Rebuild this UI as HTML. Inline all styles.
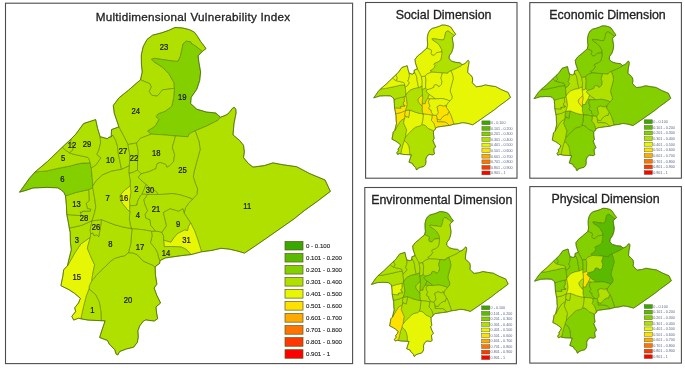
<!DOCTYPE html><html><head><meta charset="utf-8"><title>Vulnerability Index Maps</title><style>html,body{margin:0;padding:0;background:#fff}svg{display:block}</style></head><body><svg width="685" height="370" viewBox="0 0 685 370" font-family="Liberation Sans, Arial, sans-serif"><rect width="685" height="370" fill="#fff"/><g fill="none" stroke="#4d4d4d" stroke-width="1.1"><rect x="5.50" y="3.20" width="347.10" height="360.40"/><rect x="365.60" y="2.50" width="151.40" height="175.70"/><rect x="529.80" y="2.60" width="151.60" height="175.60"/><rect x="364.80" y="187.50" width="151.60" height="176.20"/><rect x="529.80" y="186.60" width="151.60" height="176.50"/></g><g fill="#222" stroke="#222" stroke-width="0.3" font-size="12.4" text-anchor="middle"><text x="95.7" y="20.5" font-size="11.7" letter-spacing="0.26" text-anchor="start">Multidimensional Vulnerability Index</text><text x="443.6" y="19">Social Dimension</text><text x="607.5" y="19.3">Economic Dimension</text><text x="441.8" y="204">Environmental Dimension</text><text x="605.5" y="202.8">Physical Dimension</text></g><g stroke="#4a6c00" stroke-width="0.45" stroke-linejoin="round"><polygon points="141.3,55.0 143.2,46.5 147.0,39.5 152.5,35.2 161.6,32.8 168.9,30.3 175.0,27.5 182.3,27.9 189.6,29.7 194.4,32.2 197.5,36.4 200.5,41.3 204.2,46.1 206.0,48.6 202.3,51.5 197.0,47.2 193.3,44.5 191.6,43.9 190.6,41.8 186.2,41.2 183.0,43.9 181.9,49.9 180.3,56.4 178.1,61.3 173.8,61.2 154.3,58.3 151.6,59.4 154.3,62.0 162.4,67.2 168.9,73.7 172.5,80.2 174.0,82.6 174.4,88.3 168.1,89.2 162.6,89.8 160.2,92.8 157.1,96.2 151.7,95.3 149.2,91.6 151.1,86.7 149.8,83.7 140.5,79.8 142.2,72.0 141.4,63.9" fill="#b0e000"/><polygon points="202.3,51.5 198.1,55.8 198.9,62.3 200.6,72.0 199.7,80.5 196.8,89.2 191.2,97.3 190.6,103.5 196.8,109.2 206.3,112.0 215.8,113.0 220.5,117.2 217.7,120.5 206.3,126.2 195.2,130.8 189.2,133.8 188.0,136.8 186.4,136.7 175.5,136.0 162.6,134.8 151.2,134.2 147.4,131.0 155.0,126.2 158.8,119.6 156.0,116.8 157.9,113.9 165.5,111.0 171.7,106.3 173.6,97.8 174.4,88.3 174.0,82.6 172.5,80.2 168.9,73.7 162.4,67.2 154.3,62.0 151.6,59.4 154.3,58.3 173.8,61.2 178.1,61.3 180.3,56.4 181.9,49.9 183.0,43.9 186.2,41.2 190.6,41.8 191.6,43.9 193.3,44.5 197.0,47.2" fill="#83cf00"/><polygon points="118.8,126.9 118.0,124.3 114.2,113.0 113.3,105.4 119.0,97.8 128.5,90.2 136.1,83.5 140.5,79.8 149.8,83.7 151.1,86.7 149.2,91.6 151.7,95.3 157.1,96.2 160.2,92.8 162.6,89.8 168.1,89.2 174.4,88.3 173.6,97.8 171.7,106.3 165.5,111.0 157.9,113.9 156.0,116.8 158.8,119.6 155.0,126.2 147.4,131.0 151.2,134.2 140.4,138.3 136.6,143.0 128.0,144.5 123.2,135.2" fill="#b0e000"/><polygon points="220.5,117.2 225.0,115.5 227.9,114.0 230.8,110.5 232.6,108.2 234.3,107.3 235.8,109.3 236.1,112.9 235.2,117.5 234.0,123.5 233.0,134.9 239.7,140.5 243.5,145.3 244.4,151.9 243.5,157.6 248.2,163.3 253.0,167.1 264.3,165.6 272.9,162.9 283.3,164.8 296.6,166.7 309.9,173.7 325.1,180.0 330.4,191.4 317.5,201.2 304.2,210.7 293.9,219.0 274.9,232.3 255.9,245.5 244.5,253.1 236.9,250.9 229.0,249.1 221.0,248.3 212.0,250.4 201.5,251.8 198.1,240.7 194.5,230.5 190.5,222.8 186.5,216.7 184.1,213.1 185.6,207.5 188.4,203.4 192.5,199.2 196.8,194.5 197.6,189.0 195.5,183.8 193.3,177.0 194.0,172.0 196.4,163.0 200.1,149.7 199.2,142.1 195.2,130.8 206.3,126.2 217.7,120.5" fill="#b0e000"/><polygon points="201.5,251.8 191.0,254.6 187.3,250.4 184.8,248.6 181.2,247.0 171.5,246.5 164.2,246.7 163.6,240.1 170.9,242.1 173.9,237.6 177.6,233.4 184.8,229.7 187.5,230.5 188.4,226.5 190.5,222.8 194.5,230.5 198.1,240.7" fill="#e6f604"/><polygon points="191.0,254.6 181.2,255.7 170.6,257.2 165.1,258.0 160.8,260.2 159.9,261.3 158.4,257.0 157.6,253.2 155.2,248.4 150.4,242.8 152.0,236.2 151.5,231.3 155.5,231.0 159.2,231.6 162.0,232.3 163.6,236.0 163.6,240.1 164.2,246.7 171.5,246.5 181.2,247.0 184.8,248.6 187.3,250.4" fill="#b0e000"/><polygon points="155.2,267.2 155.4,274.7 156.9,284.2 154.1,288.0 156.9,295.5 160.6,303.0 156.0,306.9 156.6,313.0 157.7,318.7 154.3,321.0 150.0,320.5 145.8,319.9 143.4,321.1 139.7,325.9 137.9,330.8 138.3,336.9 137.3,342.4 133.6,347.2 126.3,349.0 119.7,351.5 117.8,355.0 116.0,353.9 114.8,349.7 109.3,344.2 107.5,340.5 99.6,337.5 102.3,329.0 105.1,320.9 101.2,320.7 100.9,311.6 99.3,302.1 95.5,294.5 88.9,289.0 89.3,285.7 91.8,280.5 93.0,279.5 96.3,275.3 106.1,265.5 110.3,261.5 114.6,258.4 119.8,256.8 124.9,255.6 128.4,252.7 132.5,252.8 137.2,254.6 143.2,261.1 153.0,265.3" fill="#b0e000"/><polygon points="101.2,320.7 88.0,320.1 80.8,318.8 83.2,307.8 86.1,296.4 88.9,289.0 95.5,294.5 99.3,302.1 100.9,311.6" fill="#b0e000"/><polygon points="80.8,318.8 78.5,318.2 73.7,320.1 71.8,316.3 75.6,311.6 74.7,307.8 78.5,303.0 80.4,298.3 74.7,293.5 69.0,289.7 60.9,285.7 62.8,276.2 63.7,269.6 67.5,265.8 75.1,252.5 80.8,244.0 90.3,237.3 87.3,248.2 91.5,258.2 94.6,264.9 93.3,271.0 92.3,276.5 91.8,280.5 89.3,285.7 88.9,289.0 86.1,296.4 83.2,307.8" fill="#e6f604"/><polygon points="67.5,265.8 68.5,261.1 71.3,249.7 70.4,242.1 70.2,232.6 69.3,228.1 81.6,225.3 92.0,220.8 90.2,230.0 90.7,233.8 90.3,237.3 80.8,244.0 75.1,252.5" fill="#b0e000"/><polygon points="69.3,228.1 68.3,222.4 66.8,214.5 81.3,215.6 80.1,211.7 81.9,212.6 82.5,211.1 90.3,211.1 90.8,209.3 87.4,208.7 86.1,203.2 89.2,200.8 88.6,189.6 92.8,187.7 94.9,199.7 95.8,207.3 94.0,214.9 92.0,220.8 81.6,225.3" fill="#b0e000"/><polygon points="66.8,214.5 66.4,205.4 65.5,195.9 75.9,192.5 88.6,189.6 89.2,200.8 86.1,203.2 87.4,208.7 90.8,209.3 90.3,211.1 82.5,211.1 81.9,212.6 80.1,211.7 81.3,215.6" fill="#b0e000"/><polygon points="65.5,195.9 64.1,192.8 61.1,189.8 57.4,187.8 46.5,187.4 33.1,188.0 25.8,190.4 19.5,192.2 23.4,186.7 29.5,178.2 35.1,171.9 46.5,170.9 58.6,168.2 70.0,166.0 76.0,164.3 81.9,163.1 90.2,162.8 91.3,168.2 91.9,174.3 92.6,181.6 92.7,186.0 92.8,187.7 88.6,189.6 75.9,192.5" fill="#83cf00"/><polygon points="35.1,171.9 47.4,161.5 62.3,147.2 65.5,150.2 69.5,152.8 72.2,153.8 76.0,154.8 81.9,156.0 87.9,157.4 89.0,158.9 90.2,162.8 81.9,163.1 76.0,164.3 70.0,166.0 58.6,168.2 46.5,170.9" fill="#b0e000"/><polygon points="62.3,147.2 71.4,138.7 70.6,142.5 73.5,147.0 72.5,150.5 69.5,152.8 65.5,150.2" fill="#b0e000"/><polygon points="71.4,138.7 75.9,134.0 83.6,123.5 95.7,119.6 97.6,128.4 100.2,136.9 100.6,143.0 98.8,150.3 96.9,154.5 100.9,157.8 96.5,164.6 91.3,168.2 90.2,162.8 89.0,158.9 87.9,157.4 81.9,156.0 76.0,154.8 72.2,153.8 69.5,152.8 72.5,150.5 73.5,147.0 70.6,142.5" fill="#b0e000"/><polygon points="100.2,136.9 101.8,137.1 107.3,138.7 109.1,137.1 111.2,136.9 112.8,135.0 115.8,140.5 117.6,146.6 118.3,154.0 119.6,159.7 121.5,169.4 111.1,171.3 102.6,174.9 96.5,180.4 92.7,186.0 92.6,181.6 91.9,174.3 91.3,168.2 96.5,164.6 100.9,157.8 96.9,154.5 98.8,150.3 100.6,143.0" fill="#b0e000"/><polygon points="111.2,136.9 111.5,129.6 118.8,126.9 123.2,135.2 128.0,144.5 129.9,155.4 129.6,162.0 129.3,165.8 121.5,169.4 119.6,159.7 118.3,154.0 117.6,146.6 115.8,140.5 112.8,135.0" fill="#b0e000"/><polygon points="128.0,144.5 136.6,143.0 138.3,151.6 137.6,162.2 137.5,170.1 133.2,172.3 129.0,173.4 128.7,171.9 129.3,165.8 129.6,162.0 129.9,155.4" fill="#b0e000"/><polygon points="136.6,143.0 140.4,138.3 151.2,134.2 162.6,134.8 175.5,136.0 174.2,141.0 172.3,147.3 174.7,154.6 173.5,161.9 169.8,165.5 166.8,167.4 165.6,164.3 160.1,162.5 157.1,163.7 155.9,168.6 149.2,171.6 141.1,173.8 137.5,170.1 137.6,162.2 138.3,151.6" fill="#b0e000"/><polygon points="175.5,136.0 186.4,136.7 188.0,136.8 189.2,133.8 195.2,130.8 199.2,142.1 200.1,149.7 196.4,163.0 194.0,172.0 193.3,177.0 195.5,183.8 197.6,189.0 196.8,194.5 192.5,199.2 187.5,197.2 180.0,194.8 172.0,193.5 166.1,194.2 158.2,194.5 155.7,191.1 150.3,188.1 146.0,184.5 143.0,182.0 138.1,177.2 141.1,173.8 149.2,171.6 155.9,168.6 157.1,163.7 160.1,162.5 165.6,164.3 166.8,167.4 169.8,165.5 173.5,161.9 174.7,154.6 172.3,147.3 174.2,141.0" fill="#b0e000"/><polygon points="129.0,173.4 133.2,172.3 137.5,170.1 141.1,173.8 138.1,177.2 143.0,182.0 146.0,184.5 144.2,189.3 142.0,194.2 139.3,197.8 137.5,201.5 136.9,205.1 133.2,205.7 129.7,205.8 129.5,200.0 130.8,192.3 130.2,185.9 130.2,180.8" fill="#b0e000"/><polygon points="146.0,184.5 150.3,188.1 155.7,191.1 158.2,194.5 147.8,194.4 142.0,194.2 144.2,189.3" fill="#b0e000"/><polygon points="130.2,185.9 125.7,189.3 122.0,192.9 120.2,195.3 120.1,198.4 120.8,200.8 123.2,204.5 125.7,207.5 128.1,210.5 129.9,211.7 129.7,205.8 129.5,200.0 130.8,192.3" fill="#e6f604"/><polygon points="129.7,205.8 133.2,205.7 136.9,205.1 137.5,201.5 139.3,197.8 142.0,194.2 147.8,194.4 144.0,199.7 144.6,203.4 147.6,210.7 145.2,214.3 145.8,218.0 150.1,219.8 150.7,225.3 153.5,228.5 155.5,231.0 151.5,231.3 143.7,229.8 131.5,228.6 130.4,225.1 129.3,219.0 129.9,211.7" fill="#b0e000"/><polygon points="147.8,194.4 158.2,194.5 166.1,194.2 172.0,193.5 180.0,194.8 187.5,197.2 192.5,199.2 188.4,203.4 185.6,207.5 184.1,213.1 182.9,208.8 178.6,211.3 170.1,208.8 163.4,212.5 165.3,220.4 166.5,225.9 162.0,232.3 159.2,231.6 155.5,231.0 153.5,228.5 150.7,225.3 150.1,219.8 145.8,218.0 145.2,214.3 147.6,210.7 144.6,203.4 144.0,199.7" fill="#b0e000"/><polygon points="162.0,232.3 166.5,225.9 165.3,220.4 163.4,212.5 170.1,208.8 178.6,211.3 182.9,208.8 184.1,213.1 186.5,216.7 190.5,222.8 188.4,226.5 187.5,230.5 184.8,229.7 177.6,233.4 173.9,237.6 170.9,242.1 163.6,240.1 163.6,236.0" fill="#b0e000"/><polygon points="131.5,228.6 143.7,229.8 151.5,231.3 152.0,236.2 150.4,242.8 155.2,248.4 157.6,253.2 158.4,257.0 159.9,261.3 159.6,263.5 156.0,265.9 155.2,267.2 153.0,265.3 143.2,261.1 137.2,254.6 132.5,252.8 128.4,252.7 130.7,244.0 132.0,228.8" fill="#b0e000"/><polygon points="101.5,219.6 114.3,224.6 123.0,227.0 131.5,228.6 132.0,228.8 130.7,244.0 128.4,252.7 124.9,255.6 119.8,256.8 114.6,258.4 110.3,261.5 106.1,265.5 96.3,275.3 93.0,279.5 91.8,280.5 92.3,276.5 93.3,271.0 94.6,264.9 91.5,258.2 87.3,248.2 90.3,237.3 90.7,233.8 93.0,232.9 94.0,235.7 96.8,234.8 98.7,236.7 100.6,226.2" fill="#b0e000"/><polygon points="92.0,220.8 101.5,219.6 100.6,226.2 98.7,236.7 96.8,234.8 94.0,235.7 93.0,232.9 90.7,233.8 90.2,230.0" fill="#b0e000"/><polygon points="92.7,186.0 96.5,180.4 102.6,174.9 111.1,171.3 121.5,169.4 129.3,165.8 128.7,171.9 129.0,173.4 130.2,180.8 130.2,185.9 125.7,189.3 122.0,192.9 120.2,195.3 120.1,198.4 120.8,200.8 123.2,204.5 125.7,207.5 128.1,210.5 129.9,211.7 129.3,219.0 130.4,225.1 131.5,228.6 123.0,227.0 114.3,224.6 101.5,219.6 92.0,220.8 94.0,214.9 95.8,207.3 94.9,199.7 92.8,187.7" fill="#b0e000"/><polygon points="141.3,55.0 143.2,46.5 147.0,39.5 152.5,35.2 161.6,32.8 168.9,30.3 175.0,27.5 182.3,27.9 189.6,29.7 194.4,32.2 197.5,36.4 200.5,41.3 204.2,46.1 206.0,48.6 202.3,51.5 198.1,55.8 198.9,62.3 200.6,72.0 199.7,80.5 196.8,89.2 191.2,97.3 190.6,103.5 196.8,109.2 206.3,112.0 215.8,113.0 220.5,117.2 225.0,115.5 227.9,114.0 230.8,110.5 232.6,108.2 234.3,107.3 235.8,109.3 236.1,112.9 235.2,117.5 234.0,123.5 233.0,134.9 239.7,140.5 243.5,145.3 244.4,151.9 243.5,157.6 248.2,163.3 253.0,167.1 264.3,165.6 272.9,162.9 283.3,164.8 296.6,166.7 309.9,173.7 325.1,180.0 330.4,191.4 317.5,201.2 304.2,210.7 293.9,219.0 274.9,232.3 255.9,245.5 244.5,253.1 236.9,250.9 229.0,249.1 221.0,248.3 212.0,250.4 201.5,251.8 191.0,254.6 181.2,255.7 170.6,257.2 165.1,258.0 160.8,260.2 159.9,261.3 159.6,263.5 156.0,265.9 155.2,267.2 155.4,274.7 156.9,284.2 154.1,288.0 156.9,295.5 160.6,303.0 156.0,306.9 156.6,313.0 157.7,318.7 154.3,321.0 150.0,320.5 145.8,319.9 143.4,321.1 139.7,325.9 137.9,330.8 138.3,336.9 137.3,342.4 133.6,347.2 126.3,349.0 119.7,351.5 117.8,355.0 116.0,353.9 114.8,349.7 109.3,344.2 107.5,340.5 99.6,337.5 102.3,329.0 105.1,320.9 101.2,320.7 88.0,320.1 80.8,318.8 78.5,318.2 73.7,320.1 71.8,316.3 75.6,311.6 74.7,307.8 78.5,303.0 80.4,298.3 74.7,293.5 69.0,289.7 60.9,285.7 62.8,276.2 63.7,269.6 67.5,265.8 68.5,261.1 71.3,249.7 70.4,242.1 70.2,232.6 69.3,228.1 68.3,222.4 66.8,214.5 66.4,205.4 65.5,195.9 64.1,192.8 61.1,189.8 57.4,187.8 46.5,187.4 33.1,188.0 25.8,190.4 19.5,192.2 23.4,186.7 29.5,178.2 35.1,171.9 47.4,161.5 62.3,147.2 71.4,138.7 75.9,134.0 83.6,123.5 95.7,119.6 97.6,128.4 100.2,136.9 101.8,137.1 107.3,138.7 109.1,137.1 111.2,136.9 111.5,129.6 118.8,126.9 118.0,124.3 114.2,113.0 113.3,105.4 119.0,97.8 128.5,90.2 136.1,83.5 140.5,79.8 142.2,72.0 141.4,63.9" fill="none" stroke-width="0.75"/></g><g font-size="9" fill="#1a1a1a" stroke="#1a1a1a" stroke-width="0.25" text-anchor="middle"><text transform="translate(164.1 49.85) scale(0.85 1)">23</text><text transform="translate(182.3 99.95) scale(0.85 1)">19</text><text transform="translate(135.7 113.80) scale(0.85 1)">24</text><text transform="translate(72.0 148.05) scale(0.85 1)">12</text><text transform="translate(87.1 146.55) scale(0.85 1)">29</text><text transform="translate(63.0 161.05) scale(0.85 1)">5</text><text transform="translate(62.3 182.45) scale(0.85 1)">6</text><text transform="translate(110.3 162.65) scale(0.85 1)">10</text><text transform="translate(123.1 153.95) scale(0.85 1)">27</text><text transform="translate(134.0 161.25) scale(0.85 1)">22</text><text transform="translate(156.2 155.85) scale(0.85 1)">18</text><text transform="translate(182.6 172.85) scale(0.85 1)">25</text><text transform="translate(247.3 209.45) scale(0.85 1)">11</text><text transform="translate(107.6 200.75) scale(0.85 1)">7</text><text transform="translate(124.1 201.35) scale(0.85 1)">16</text><text transform="translate(136.4 192.15) scale(0.85 1)">2</text><text transform="translate(150.1 192.65) scale(0.85 1)">30</text><text transform="translate(137.9 218.35) scale(0.85 1)">4</text><text transform="translate(155.9 211.95) scale(0.85 1)">21</text><text transform="translate(178.0 226.65) scale(0.85 1)">9</text><text transform="translate(186.4 243.25) scale(0.85 1)">31</text><text transform="translate(165.9 255.85) scale(0.85 1)">14</text><text transform="translate(139.9 249.75) scale(0.85 1)">17</text><text transform="translate(110.3 246.55) scale(0.85 1)">8</text><text transform="translate(95.9 229.85) scale(0.85 1)">26</text><text transform="translate(84.0 221.25) scale(0.85 1)">28</text><text transform="translate(76.5 207.15) scale(0.85 1)">13</text><text transform="translate(76.9 242.65) scale(0.85 1)">3</text><text transform="translate(76.7 279.95) scale(0.85 1)">15</text><text transform="translate(128.0 302.55) scale(0.85 1)">20</text><text transform="translate(92.4 312.65) scale(0.85 1)">1</text></g><rect x="285" y="241.40" width="18" height="8.6" fill="#38a800" stroke="#5c5c1e" stroke-width="0.7"/><text x="306" y="247.90" font-size="6.1" fill="#222" stroke="#222" stroke-width="0.12">0 - 0.100</text><rect x="285" y="253.43" width="18" height="8.6" fill="#5aba00" stroke="#5c5c1e" stroke-width="0.7"/><text x="306" y="259.93" font-size="6.1" fill="#222" stroke="#222" stroke-width="0.12">0.101 - 0.200</text><rect x="285" y="265.46" width="18" height="8.6" fill="#83cf00" stroke="#5c5c1e" stroke-width="0.7"/><text x="306" y="271.96" font-size="6.1" fill="#222" stroke="#222" stroke-width="0.12">0.201 - 0.300</text><rect x="285" y="277.49" width="18" height="8.6" fill="#b0e000" stroke="#5c5c1e" stroke-width="0.7"/><text x="306" y="283.99" font-size="6.1" fill="#222" stroke="#222" stroke-width="0.12">0.301 - 0.400</text><rect x="285" y="289.52" width="18" height="8.6" fill="#e6f604" stroke="#5c5c1e" stroke-width="0.7"/><text x="306" y="296.02" font-size="6.1" fill="#222" stroke="#222" stroke-width="0.12">0.401 - 0.500</text><rect x="285" y="301.55" width="18" height="8.6" fill="#ffe100" stroke="#5c5c1e" stroke-width="0.7"/><text x="306" y="308.05" font-size="6.1" fill="#222" stroke="#222" stroke-width="0.12">0.501 - 0.600</text><rect x="285" y="313.58" width="18" height="8.6" fill="#ffaa00" stroke="#5c5c1e" stroke-width="0.7"/><text x="306" y="320.08" font-size="6.1" fill="#222" stroke="#222" stroke-width="0.12">0.601 - 0.700</text><rect x="285" y="325.61" width="18" height="8.6" fill="#ff7300" stroke="#5c5c1e" stroke-width="0.7"/><text x="306" y="332.11" font-size="6.1" fill="#222" stroke="#222" stroke-width="0.12">0.701 - 0.800</text><rect x="285" y="337.64" width="18" height="8.6" fill="#ff3700" stroke="#5c5c1e" stroke-width="0.7"/><text x="306" y="344.14" font-size="6.1" fill="#222" stroke="#222" stroke-width="0.12">0.801 - 0.900</text><rect x="285" y="349.67" width="18" height="8.6" fill="#ff0000" stroke="#5c5c1e" stroke-width="0.7"/><text x="306" y="356.17" font-size="6.1" fill="#222" stroke="#222" stroke-width="0.12">0.901 - 1</text><g transform="translate(365.14 12.80) scale(0.4400 0.4426)"><g stroke="#4a6c00" stroke-width="1.0" stroke-linejoin="round"><polygon points="141.3,55.0 143.2,46.5 147.0,39.5 152.5,35.2 161.6,32.8 168.9,30.3 175.0,27.5 182.3,27.9 189.6,29.7 194.4,32.2 197.5,36.4 200.5,41.3 204.2,46.1 206.0,48.6 202.3,51.5 197.0,47.2 193.3,44.5 191.6,43.9 190.6,41.8 186.2,41.2 183.0,43.9 181.9,49.9 180.3,56.4 178.1,61.3 173.8,61.2 154.3,58.3 151.6,59.4 154.3,62.0 162.4,67.2 168.9,73.7 172.5,80.2 174.0,82.6 174.4,88.3 168.1,89.2 162.6,89.8 160.2,92.8 157.1,96.2 151.7,95.3 149.2,91.6 151.1,86.7 149.8,83.7 140.5,79.8 142.2,72.0 141.4,63.9" fill="#e6f604"/><polygon points="202.3,51.5 198.1,55.8 198.9,62.3 200.6,72.0 199.7,80.5 196.8,89.2 191.2,97.3 190.6,103.5 196.8,109.2 206.3,112.0 215.8,113.0 220.5,117.2 217.7,120.5 206.3,126.2 195.2,130.8 189.2,133.8 188.0,136.8 186.4,136.7 175.5,136.0 162.6,134.8 151.2,134.2 147.4,131.0 155.0,126.2 158.8,119.6 156.0,116.8 157.9,113.9 165.5,111.0 171.7,106.3 173.6,97.8 174.4,88.3 174.0,82.6 172.5,80.2 168.9,73.7 162.4,67.2 154.3,62.0 151.6,59.4 154.3,58.3 173.8,61.2 178.1,61.3 180.3,56.4 181.9,49.9 183.0,43.9 186.2,41.2 190.6,41.8 191.6,43.9 193.3,44.5 197.0,47.2" fill="#b0e000"/><polygon points="118.8,126.9 118.0,124.3 114.2,113.0 113.3,105.4 119.0,97.8 128.5,90.2 136.1,83.5 140.5,79.8 149.8,83.7 151.1,86.7 149.2,91.6 151.7,95.3 157.1,96.2 160.2,92.8 162.6,89.8 168.1,89.2 174.4,88.3 173.6,97.8 171.7,106.3 165.5,111.0 157.9,113.9 156.0,116.8 158.8,119.6 155.0,126.2 147.4,131.0 151.2,134.2 140.4,138.3 136.6,143.0 128.0,144.5 123.2,135.2" fill="#e6f604"/><polygon points="220.5,117.2 225.0,115.5 227.9,114.0 230.8,110.5 232.6,108.2 234.3,107.3 235.8,109.3 236.1,112.9 235.2,117.5 234.0,123.5 233.0,134.9 239.7,140.5 243.5,145.3 244.4,151.9 243.5,157.6 248.2,163.3 253.0,167.1 264.3,165.6 272.9,162.9 283.3,164.8 296.6,166.7 309.9,173.7 325.1,180.0 330.4,191.4 317.5,201.2 304.2,210.7 293.9,219.0 274.9,232.3 255.9,245.5 244.5,253.1 236.9,250.9 229.0,249.1 221.0,248.3 212.0,250.4 201.5,251.8 198.1,240.7 194.5,230.5 190.5,222.8 186.5,216.7 184.1,213.1 185.6,207.5 188.4,203.4 192.5,199.2 196.8,194.5 197.6,189.0 195.5,183.8 193.3,177.0 194.0,172.0 196.4,163.0 200.1,149.7 199.2,142.1 195.2,130.8 206.3,126.2 217.7,120.5" fill="#e6f604"/><polygon points="201.5,251.8 191.0,254.6 187.3,250.4 184.8,248.6 181.2,247.0 171.5,246.5 164.2,246.7 163.6,240.1 170.9,242.1 173.9,237.6 177.6,233.4 184.8,229.7 187.5,230.5 188.4,226.5 190.5,222.8 194.5,230.5 198.1,240.7" fill="#ffe100"/><polygon points="191.0,254.6 181.2,255.7 170.6,257.2 165.1,258.0 160.8,260.2 159.9,261.3 158.4,257.0 157.6,253.2 155.2,248.4 150.4,242.8 152.0,236.2 151.5,231.3 155.5,231.0 159.2,231.6 162.0,232.3 163.6,236.0 163.6,240.1 164.2,246.7 171.5,246.5 181.2,247.0 184.8,248.6 187.3,250.4" fill="#ffe100"/><polygon points="155.2,267.2 155.4,274.7 156.9,284.2 154.1,288.0 156.9,295.5 160.6,303.0 156.0,306.9 156.6,313.0 157.7,318.7 154.3,321.0 150.0,320.5 145.8,319.9 143.4,321.1 139.7,325.9 137.9,330.8 138.3,336.9 137.3,342.4 133.6,347.2 126.3,349.0 119.7,351.5 117.8,355.0 116.0,353.9 114.8,349.7 109.3,344.2 107.5,340.5 99.6,337.5 102.3,329.0 105.1,320.9 101.2,320.7 100.9,311.6 99.3,302.1 95.5,294.5 88.9,289.0 89.3,285.7 91.8,280.5 93.0,279.5 96.3,275.3 106.1,265.5 110.3,261.5 114.6,258.4 119.8,256.8 124.9,255.6 128.4,252.7 132.5,252.8 137.2,254.6 143.2,261.1 153.0,265.3" fill="#b0e000"/><polygon points="101.2,320.7 88.0,320.1 80.8,318.8 83.2,307.8 86.1,296.4 88.9,289.0 95.5,294.5 99.3,302.1 100.9,311.6" fill="#e6f604"/><polygon points="80.8,318.8 78.5,318.2 73.7,320.1 71.8,316.3 75.6,311.6 74.7,307.8 78.5,303.0 80.4,298.3 74.7,293.5 69.0,289.7 60.9,285.7 62.8,276.2 63.7,269.6 67.5,265.8 75.1,252.5 80.8,244.0 90.3,237.3 87.3,248.2 91.5,258.2 94.6,264.9 93.3,271.0 92.3,276.5 91.8,280.5 89.3,285.7 88.9,289.0 86.1,296.4 83.2,307.8" fill="#b0e000"/><polygon points="67.5,265.8 68.5,261.1 71.3,249.7 70.4,242.1 70.2,232.6 69.3,228.1 81.6,225.3 92.0,220.8 90.2,230.0 90.7,233.8 90.3,237.3 80.8,244.0 75.1,252.5" fill="#ffe100"/><polygon points="69.3,228.1 68.3,222.4 66.8,214.5 81.3,215.6 80.1,211.7 81.9,212.6 82.5,211.1 90.3,211.1 90.8,209.3 87.4,208.7 86.1,203.2 89.2,200.8 88.6,189.6 92.8,187.7 94.9,199.7 95.8,207.3 94.0,214.9 92.0,220.8 81.6,225.3" fill="#ffe100"/><polygon points="66.8,214.5 66.4,205.4 65.5,195.9 75.9,192.5 88.6,189.6 89.2,200.8 86.1,203.2 87.4,208.7 90.8,209.3 90.3,211.1 82.5,211.1 81.9,212.6 80.1,211.7 81.3,215.6" fill="#b0e000"/><polygon points="65.5,195.9 64.1,192.8 61.1,189.8 57.4,187.8 46.5,187.4 33.1,188.0 25.8,190.4 19.5,192.2 23.4,186.7 29.5,178.2 35.1,171.9 46.5,170.9 58.6,168.2 70.0,166.0 76.0,164.3 81.9,163.1 90.2,162.8 91.3,168.2 91.9,174.3 92.6,181.6 92.7,186.0 92.8,187.7 88.6,189.6 75.9,192.5" fill="#b0e000"/><polygon points="35.1,171.9 47.4,161.5 62.3,147.2 65.5,150.2 69.5,152.8 72.2,153.8 76.0,154.8 81.9,156.0 87.9,157.4 89.0,158.9 90.2,162.8 81.9,163.1 76.0,164.3 70.0,166.0 58.6,168.2 46.5,170.9" fill="#e6f604"/><polygon points="62.3,147.2 71.4,138.7 70.6,142.5 73.5,147.0 72.5,150.5 69.5,152.8 65.5,150.2" fill="#e6f604"/><polygon points="71.4,138.7 75.9,134.0 83.6,123.5 95.7,119.6 97.6,128.4 100.2,136.9 100.6,143.0 98.8,150.3 96.9,154.5 100.9,157.8 96.5,164.6 91.3,168.2 90.2,162.8 89.0,158.9 87.9,157.4 81.9,156.0 76.0,154.8 72.2,153.8 69.5,152.8 72.5,150.5 73.5,147.0 70.6,142.5" fill="#e6f604"/><polygon points="100.2,136.9 101.8,137.1 107.3,138.7 109.1,137.1 111.2,136.9 112.8,135.0 115.8,140.5 117.6,146.6 118.3,154.0 119.6,159.7 121.5,169.4 111.1,171.3 102.6,174.9 96.5,180.4 92.7,186.0 92.6,181.6 91.9,174.3 91.3,168.2 96.5,164.6 100.9,157.8 96.9,154.5 98.8,150.3 100.6,143.0" fill="#e6f604"/><polygon points="111.2,136.9 111.5,129.6 118.8,126.9 123.2,135.2 128.0,144.5 129.9,155.4 129.6,162.0 129.3,165.8 121.5,169.4 119.6,159.7 118.3,154.0 117.6,146.6 115.8,140.5 112.8,135.0" fill="#e6f604"/><polygon points="128.0,144.5 136.6,143.0 138.3,151.6 137.6,162.2 137.5,170.1 133.2,172.3 129.0,173.4 128.7,171.9 129.3,165.8 129.6,162.0 129.9,155.4" fill="#e6f604"/><polygon points="136.6,143.0 140.4,138.3 151.2,134.2 162.6,134.8 175.5,136.0 174.2,141.0 172.3,147.3 174.7,154.6 173.5,161.9 169.8,165.5 166.8,167.4 165.6,164.3 160.1,162.5 157.1,163.7 155.9,168.6 149.2,171.6 141.1,173.8 137.5,170.1 137.6,162.2 138.3,151.6" fill="#e6f604"/><polygon points="175.5,136.0 186.4,136.7 188.0,136.8 189.2,133.8 195.2,130.8 199.2,142.1 200.1,149.7 196.4,163.0 194.0,172.0 193.3,177.0 195.5,183.8 197.6,189.0 196.8,194.5 192.5,199.2 187.5,197.2 180.0,194.8 172.0,193.5 166.1,194.2 158.2,194.5 155.7,191.1 150.3,188.1 146.0,184.5 143.0,182.0 138.1,177.2 141.1,173.8 149.2,171.6 155.9,168.6 157.1,163.7 160.1,162.5 165.6,164.3 166.8,167.4 169.8,165.5 173.5,161.9 174.7,154.6 172.3,147.3 174.2,141.0" fill="#e6f604"/><polygon points="129.0,173.4 133.2,172.3 137.5,170.1 141.1,173.8 138.1,177.2 143.0,182.0 146.0,184.5 144.2,189.3 142.0,194.2 139.3,197.8 137.5,201.5 136.9,205.1 133.2,205.7 129.7,205.8 129.5,200.0 130.8,192.3 130.2,185.9 130.2,180.8" fill="#b0e000"/><polygon points="146.0,184.5 150.3,188.1 155.7,191.1 158.2,194.5 147.8,194.4 142.0,194.2 144.2,189.3" fill="#e6f604"/><polygon points="130.2,185.9 125.7,189.3 122.0,192.9 120.2,195.3 120.1,198.4 120.8,200.8 123.2,204.5 125.7,207.5 128.1,210.5 129.9,211.7 129.7,205.8 129.5,200.0 130.8,192.3" fill="#ffe100"/><polygon points="129.7,205.8 133.2,205.7 136.9,205.1 137.5,201.5 139.3,197.8 142.0,194.2 147.8,194.4 144.0,199.7 144.6,203.4 147.6,210.7 145.2,214.3 145.8,218.0 150.1,219.8 150.7,225.3 153.5,228.5 155.5,231.0 151.5,231.3 143.7,229.8 131.5,228.6 130.4,225.1 129.3,219.0 129.9,211.7" fill="#ffe100"/><polygon points="147.8,194.4 158.2,194.5 166.1,194.2 172.0,193.5 180.0,194.8 187.5,197.2 192.5,199.2 188.4,203.4 185.6,207.5 184.1,213.1 182.9,208.8 178.6,211.3 170.1,208.8 163.4,212.5 165.3,220.4 166.5,225.9 162.0,232.3 159.2,231.6 155.5,231.0 153.5,228.5 150.7,225.3 150.1,219.8 145.8,218.0 145.2,214.3 147.6,210.7 144.6,203.4 144.0,199.7" fill="#e6f604"/><polygon points="162.0,232.3 166.5,225.9 165.3,220.4 163.4,212.5 170.1,208.8 178.6,211.3 182.9,208.8 184.1,213.1 186.5,216.7 190.5,222.8 188.4,226.5 187.5,230.5 184.8,229.7 177.6,233.4 173.9,237.6 170.9,242.1 163.6,240.1 163.6,236.0" fill="#ffe100"/><polygon points="131.5,228.6 143.7,229.8 151.5,231.3 152.0,236.2 150.4,242.8 155.2,248.4 157.6,253.2 158.4,257.0 159.9,261.3 159.6,263.5 156.0,265.9 155.2,267.2 153.0,265.3 143.2,261.1 137.2,254.6 132.5,252.8 128.4,252.7 130.7,244.0 132.0,228.8" fill="#e6f604"/><polygon points="101.5,219.6 114.3,224.6 123.0,227.0 131.5,228.6 132.0,228.8 130.7,244.0 128.4,252.7 124.9,255.6 119.8,256.8 114.6,258.4 110.3,261.5 106.1,265.5 96.3,275.3 93.0,279.5 91.8,280.5 92.3,276.5 93.3,271.0 94.6,264.9 91.5,258.2 87.3,248.2 90.3,237.3 90.7,233.8 93.0,232.9 94.0,235.7 96.8,234.8 98.7,236.7 100.6,226.2" fill="#e6f604"/><polygon points="92.0,220.8 101.5,219.6 100.6,226.2 98.7,236.7 96.8,234.8 94.0,235.7 93.0,232.9 90.7,233.8 90.2,230.0" fill="#ffe100"/><polygon points="92.7,186.0 96.5,180.4 102.6,174.9 111.1,171.3 121.5,169.4 129.3,165.8 128.7,171.9 129.0,173.4 130.2,180.8 130.2,185.9 125.7,189.3 122.0,192.9 120.2,195.3 120.1,198.4 120.8,200.8 123.2,204.5 125.7,207.5 128.1,210.5 129.9,211.7 129.3,219.0 130.4,225.1 131.5,228.6 123.0,227.0 114.3,224.6 101.5,219.6 92.0,220.8 94.0,214.9 95.8,207.3 94.9,199.7 92.8,187.7" fill="#b0e000"/><polygon points="141.3,55.0 143.2,46.5 147.0,39.5 152.5,35.2 161.6,32.8 168.9,30.3 175.0,27.5 182.3,27.9 189.6,29.7 194.4,32.2 197.5,36.4 200.5,41.3 204.2,46.1 206.0,48.6 202.3,51.5 198.1,55.8 198.9,62.3 200.6,72.0 199.7,80.5 196.8,89.2 191.2,97.3 190.6,103.5 196.8,109.2 206.3,112.0 215.8,113.0 220.5,117.2 225.0,115.5 227.9,114.0 230.8,110.5 232.6,108.2 234.3,107.3 235.8,109.3 236.1,112.9 235.2,117.5 234.0,123.5 233.0,134.9 239.7,140.5 243.5,145.3 244.4,151.9 243.5,157.6 248.2,163.3 253.0,167.1 264.3,165.6 272.9,162.9 283.3,164.8 296.6,166.7 309.9,173.7 325.1,180.0 330.4,191.4 317.5,201.2 304.2,210.7 293.9,219.0 274.9,232.3 255.9,245.5 244.5,253.1 236.9,250.9 229.0,249.1 221.0,248.3 212.0,250.4 201.5,251.8 191.0,254.6 181.2,255.7 170.6,257.2 165.1,258.0 160.8,260.2 159.9,261.3 159.6,263.5 156.0,265.9 155.2,267.2 155.4,274.7 156.9,284.2 154.1,288.0 156.9,295.5 160.6,303.0 156.0,306.9 156.6,313.0 157.7,318.7 154.3,321.0 150.0,320.5 145.8,319.9 143.4,321.1 139.7,325.9 137.9,330.8 138.3,336.9 137.3,342.4 133.6,347.2 126.3,349.0 119.7,351.5 117.8,355.0 116.0,353.9 114.8,349.7 109.3,344.2 107.5,340.5 99.6,337.5 102.3,329.0 105.1,320.9 101.2,320.7 88.0,320.1 80.8,318.8 78.5,318.2 73.7,320.1 71.8,316.3 75.6,311.6 74.7,307.8 78.5,303.0 80.4,298.3 74.7,293.5 69.0,289.7 60.9,285.7 62.8,276.2 63.7,269.6 67.5,265.8 68.5,261.1 71.3,249.7 70.4,242.1 70.2,232.6 69.3,228.1 68.3,222.4 66.8,214.5 66.4,205.4 65.5,195.9 64.1,192.8 61.1,189.8 57.4,187.8 46.5,187.4 33.1,188.0 25.8,190.4 19.5,192.2 23.4,186.7 29.5,178.2 35.1,171.9 47.4,161.5 62.3,147.2 71.4,138.7 75.9,134.0 83.6,123.5 95.7,119.6 97.6,128.4 100.2,136.9 101.8,137.1 107.3,138.7 109.1,137.1 111.2,136.9 111.5,129.6 118.8,126.9 118.0,124.3 114.2,113.0 113.3,105.4 119.0,97.8 128.5,90.2 136.1,83.5 140.5,79.8 142.2,72.0 141.4,63.9" fill="none" stroke-width="1.5"/></g></g><rect x="481.90" y="120.90" width="8.2" height="3.8" fill="#38a800" stroke="#5a5a2a" stroke-width="0.45"/><text x="490.90" y="124.10" font-size="3.7" fill="#5d6688">0 - 0.100</text><rect x="481.90" y="126.47" width="8.2" height="3.8" fill="#5aba00" stroke="#5a5a2a" stroke-width="0.45"/><text x="490.90" y="129.67" font-size="3.7" fill="#5d6688">0.101 - 0.200</text><rect x="481.90" y="132.04" width="8.2" height="3.8" fill="#83cf00" stroke="#5a5a2a" stroke-width="0.45"/><text x="490.90" y="135.24" font-size="3.7" fill="#5d6688">0.201 - 0.300</text><rect x="481.90" y="137.61" width="8.2" height="3.8" fill="#b0e000" stroke="#5a5a2a" stroke-width="0.45"/><text x="490.90" y="140.81" font-size="3.7" fill="#5d6688">0.301 - 0.400</text><rect x="481.90" y="143.18" width="8.2" height="3.8" fill="#e6f604" stroke="#5a5a2a" stroke-width="0.45"/><text x="490.90" y="146.38" font-size="3.7" fill="#5d6688">0.401 - 0.500</text><rect x="481.90" y="148.75" width="8.2" height="3.8" fill="#ffe100" stroke="#5a5a2a" stroke-width="0.45"/><text x="490.90" y="151.95" font-size="3.7" fill="#5d6688">0.501 - 0.600</text><rect x="481.90" y="154.32" width="8.2" height="3.8" fill="#ffaa00" stroke="#5a5a2a" stroke-width="0.45"/><text x="490.90" y="157.52" font-size="3.7" fill="#5d6688">0.601 - 0.700</text><rect x="481.90" y="159.89" width="8.2" height="3.8" fill="#ff7300" stroke="#5a5a2a" stroke-width="0.45"/><text x="490.90" y="163.09" font-size="3.7" fill="#5d6688">0.701 - 0.800</text><rect x="481.90" y="165.46" width="8.2" height="3.8" fill="#ff3700" stroke="#5a5a2a" stroke-width="0.45"/><text x="490.90" y="168.66" font-size="3.7" fill="#5d6688">0.801 - 0.900</text><rect x="481.90" y="171.03" width="8.2" height="3.8" fill="#ff0000" stroke="#5a5a2a" stroke-width="0.45"/><text x="490.90" y="174.23" font-size="3.7" fill="#5d6688">0.901 - 1</text><g transform="translate(525.40 13.60) scale(0.4400 0.4426)"><g stroke="#4a6c00" stroke-width="1.0" stroke-linejoin="round"><polygon points="141.3,55.0 143.2,46.5 147.0,39.5 152.5,35.2 161.6,32.8 168.9,30.3 175.0,27.5 182.3,27.9 189.6,29.7 194.4,32.2 197.5,36.4 200.5,41.3 204.2,46.1 206.0,48.6 202.3,51.5 197.0,47.2 193.3,44.5 191.6,43.9 190.6,41.8 186.2,41.2 183.0,43.9 181.9,49.9 180.3,56.4 178.1,61.3 173.8,61.2 154.3,58.3 151.6,59.4 154.3,62.0 162.4,67.2 168.9,73.7 172.5,80.2 174.0,82.6 174.4,88.3 168.1,89.2 162.6,89.8 160.2,92.8 157.1,96.2 151.7,95.3 149.2,91.6 151.1,86.7 149.8,83.7 140.5,79.8 142.2,72.0 141.4,63.9" fill="#83cf00"/><polygon points="202.3,51.5 198.1,55.8 198.9,62.3 200.6,72.0 199.7,80.5 196.8,89.2 191.2,97.3 190.6,103.5 196.8,109.2 206.3,112.0 215.8,113.0 220.5,117.2 217.7,120.5 206.3,126.2 195.2,130.8 189.2,133.8 188.0,136.8 186.4,136.7 175.5,136.0 162.6,134.8 151.2,134.2 147.4,131.0 155.0,126.2 158.8,119.6 156.0,116.8 157.9,113.9 165.5,111.0 171.7,106.3 173.6,97.8 174.4,88.3 174.0,82.6 172.5,80.2 168.9,73.7 162.4,67.2 154.3,62.0 151.6,59.4 154.3,58.3 173.8,61.2 178.1,61.3 180.3,56.4 181.9,49.9 183.0,43.9 186.2,41.2 190.6,41.8 191.6,43.9 193.3,44.5 197.0,47.2" fill="#83cf00"/><polygon points="118.8,126.9 118.0,124.3 114.2,113.0 113.3,105.4 119.0,97.8 128.5,90.2 136.1,83.5 140.5,79.8 149.8,83.7 151.1,86.7 149.2,91.6 151.7,95.3 157.1,96.2 160.2,92.8 162.6,89.8 168.1,89.2 174.4,88.3 173.6,97.8 171.7,106.3 165.5,111.0 157.9,113.9 156.0,116.8 158.8,119.6 155.0,126.2 147.4,131.0 151.2,134.2 140.4,138.3 136.6,143.0 128.0,144.5 123.2,135.2" fill="#83cf00"/><polygon points="220.5,117.2 225.0,115.5 227.9,114.0 230.8,110.5 232.6,108.2 234.3,107.3 235.8,109.3 236.1,112.9 235.2,117.5 234.0,123.5 233.0,134.9 239.7,140.5 243.5,145.3 244.4,151.9 243.5,157.6 248.2,163.3 253.0,167.1 264.3,165.6 272.9,162.9 283.3,164.8 296.6,166.7 309.9,173.7 325.1,180.0 330.4,191.4 317.5,201.2 304.2,210.7 293.9,219.0 274.9,232.3 255.9,245.5 244.5,253.1 236.9,250.9 229.0,249.1 221.0,248.3 212.0,250.4 201.5,251.8 198.1,240.7 194.5,230.5 190.5,222.8 186.5,216.7 184.1,213.1 185.6,207.5 188.4,203.4 192.5,199.2 196.8,194.5 197.6,189.0 195.5,183.8 193.3,177.0 194.0,172.0 196.4,163.0 200.1,149.7 199.2,142.1 195.2,130.8 206.3,126.2 217.7,120.5" fill="#83cf00"/><polygon points="201.5,251.8 191.0,254.6 187.3,250.4 184.8,248.6 181.2,247.0 171.5,246.5 164.2,246.7 163.6,240.1 170.9,242.1 173.9,237.6 177.6,233.4 184.8,229.7 187.5,230.5 188.4,226.5 190.5,222.8 194.5,230.5 198.1,240.7" fill="#b0e000"/><polygon points="191.0,254.6 181.2,255.7 170.6,257.2 165.1,258.0 160.8,260.2 159.9,261.3 158.4,257.0 157.6,253.2 155.2,248.4 150.4,242.8 152.0,236.2 151.5,231.3 155.5,231.0 159.2,231.6 162.0,232.3 163.6,236.0 163.6,240.1 164.2,246.7 171.5,246.5 181.2,247.0 184.8,248.6 187.3,250.4" fill="#b0e000"/><polygon points="155.2,267.2 155.4,274.7 156.9,284.2 154.1,288.0 156.9,295.5 160.6,303.0 156.0,306.9 156.6,313.0 157.7,318.7 154.3,321.0 150.0,320.5 145.8,319.9 143.4,321.1 139.7,325.9 137.9,330.8 138.3,336.9 137.3,342.4 133.6,347.2 126.3,349.0 119.7,351.5 117.8,355.0 116.0,353.9 114.8,349.7 109.3,344.2 107.5,340.5 99.6,337.5 102.3,329.0 105.1,320.9 101.2,320.7 100.9,311.6 99.3,302.1 95.5,294.5 88.9,289.0 89.3,285.7 91.8,280.5 93.0,279.5 96.3,275.3 106.1,265.5 110.3,261.5 114.6,258.4 119.8,256.8 124.9,255.6 128.4,252.7 132.5,252.8 137.2,254.6 143.2,261.1 153.0,265.3" fill="#83cf00"/><polygon points="101.2,320.7 88.0,320.1 80.8,318.8 83.2,307.8 86.1,296.4 88.9,289.0 95.5,294.5 99.3,302.1 100.9,311.6" fill="#b0e000"/><polygon points="80.8,318.8 78.5,318.2 73.7,320.1 71.8,316.3 75.6,311.6 74.7,307.8 78.5,303.0 80.4,298.3 74.7,293.5 69.0,289.7 60.9,285.7 62.8,276.2 63.7,269.6 67.5,265.8 75.1,252.5 80.8,244.0 90.3,237.3 87.3,248.2 91.5,258.2 94.6,264.9 93.3,271.0 92.3,276.5 91.8,280.5 89.3,285.7 88.9,289.0 86.1,296.4 83.2,307.8" fill="#b0e000"/><polygon points="67.5,265.8 68.5,261.1 71.3,249.7 70.4,242.1 70.2,232.6 69.3,228.1 81.6,225.3 92.0,220.8 90.2,230.0 90.7,233.8 90.3,237.3 80.8,244.0 75.1,252.5" fill="#b0e000"/><polygon points="69.3,228.1 68.3,222.4 66.8,214.5 81.3,215.6 80.1,211.7 81.9,212.6 82.5,211.1 90.3,211.1 90.8,209.3 87.4,208.7 86.1,203.2 89.2,200.8 88.6,189.6 92.8,187.7 94.9,199.7 95.8,207.3 94.0,214.9 92.0,220.8 81.6,225.3" fill="#b0e000"/><polygon points="66.8,214.5 66.4,205.4 65.5,195.9 75.9,192.5 88.6,189.6 89.2,200.8 86.1,203.2 87.4,208.7 90.8,209.3 90.3,211.1 82.5,211.1 81.9,212.6 80.1,211.7 81.3,215.6" fill="#b0e000"/><polygon points="65.5,195.9 64.1,192.8 61.1,189.8 57.4,187.8 46.5,187.4 33.1,188.0 25.8,190.4 19.5,192.2 23.4,186.7 29.5,178.2 35.1,171.9 46.5,170.9 58.6,168.2 70.0,166.0 76.0,164.3 81.9,163.1 90.2,162.8 91.3,168.2 91.9,174.3 92.6,181.6 92.7,186.0 92.8,187.7 88.6,189.6 75.9,192.5" fill="#83cf00"/><polygon points="35.1,171.9 47.4,161.5 62.3,147.2 65.5,150.2 69.5,152.8 72.2,153.8 76.0,154.8 81.9,156.0 87.9,157.4 89.0,158.9 90.2,162.8 81.9,163.1 76.0,164.3 70.0,166.0 58.6,168.2 46.5,170.9" fill="#83cf00"/><polygon points="62.3,147.2 71.4,138.7 70.6,142.5 73.5,147.0 72.5,150.5 69.5,152.8 65.5,150.2" fill="#83cf00"/><polygon points="71.4,138.7 75.9,134.0 83.6,123.5 95.7,119.6 97.6,128.4 100.2,136.9 100.6,143.0 98.8,150.3 96.9,154.5 100.9,157.8 96.5,164.6 91.3,168.2 90.2,162.8 89.0,158.9 87.9,157.4 81.9,156.0 76.0,154.8 72.2,153.8 69.5,152.8 72.5,150.5 73.5,147.0 70.6,142.5" fill="#83cf00"/><polygon points="100.2,136.9 101.8,137.1 107.3,138.7 109.1,137.1 111.2,136.9 112.8,135.0 115.8,140.5 117.6,146.6 118.3,154.0 119.6,159.7 121.5,169.4 111.1,171.3 102.6,174.9 96.5,180.4 92.7,186.0 92.6,181.6 91.9,174.3 91.3,168.2 96.5,164.6 100.9,157.8 96.9,154.5 98.8,150.3 100.6,143.0" fill="#b0e000"/><polygon points="111.2,136.9 111.5,129.6 118.8,126.9 123.2,135.2 128.0,144.5 129.9,155.4 129.6,162.0 129.3,165.8 121.5,169.4 119.6,159.7 118.3,154.0 117.6,146.6 115.8,140.5 112.8,135.0" fill="#b0e000"/><polygon points="128.0,144.5 136.6,143.0 138.3,151.6 137.6,162.2 137.5,170.1 133.2,172.3 129.0,173.4 128.7,171.9 129.3,165.8 129.6,162.0 129.9,155.4" fill="#b0e000"/><polygon points="136.6,143.0 140.4,138.3 151.2,134.2 162.6,134.8 175.5,136.0 174.2,141.0 172.3,147.3 174.7,154.6 173.5,161.9 169.8,165.5 166.8,167.4 165.6,164.3 160.1,162.5 157.1,163.7 155.9,168.6 149.2,171.6 141.1,173.8 137.5,170.1 137.6,162.2 138.3,151.6" fill="#83cf00"/><polygon points="175.5,136.0 186.4,136.7 188.0,136.8 189.2,133.8 195.2,130.8 199.2,142.1 200.1,149.7 196.4,163.0 194.0,172.0 193.3,177.0 195.5,183.8 197.6,189.0 196.8,194.5 192.5,199.2 187.5,197.2 180.0,194.8 172.0,193.5 166.1,194.2 158.2,194.5 155.7,191.1 150.3,188.1 146.0,184.5 143.0,182.0 138.1,177.2 141.1,173.8 149.2,171.6 155.9,168.6 157.1,163.7 160.1,162.5 165.6,164.3 166.8,167.4 169.8,165.5 173.5,161.9 174.7,154.6 172.3,147.3 174.2,141.0" fill="#b0e000"/><polygon points="129.0,173.4 133.2,172.3 137.5,170.1 141.1,173.8 138.1,177.2 143.0,182.0 146.0,184.5 144.2,189.3 142.0,194.2 139.3,197.8 137.5,201.5 136.9,205.1 133.2,205.7 129.7,205.8 129.5,200.0 130.8,192.3 130.2,185.9 130.2,180.8" fill="#e6f604"/><polygon points="146.0,184.5 150.3,188.1 155.7,191.1 158.2,194.5 147.8,194.4 142.0,194.2 144.2,189.3" fill="#b0e000"/><polygon points="130.2,185.9 125.7,189.3 122.0,192.9 120.2,195.3 120.1,198.4 120.8,200.8 123.2,204.5 125.7,207.5 128.1,210.5 129.9,211.7 129.7,205.8 129.5,200.0 130.8,192.3" fill="#ffe100"/><polygon points="129.7,205.8 133.2,205.7 136.9,205.1 137.5,201.5 139.3,197.8 142.0,194.2 147.8,194.4 144.0,199.7 144.6,203.4 147.6,210.7 145.2,214.3 145.8,218.0 150.1,219.8 150.7,225.3 153.5,228.5 155.5,231.0 151.5,231.3 143.7,229.8 131.5,228.6 130.4,225.1 129.3,219.0 129.9,211.7" fill="#83cf00"/><polygon points="147.8,194.4 158.2,194.5 166.1,194.2 172.0,193.5 180.0,194.8 187.5,197.2 192.5,199.2 188.4,203.4 185.6,207.5 184.1,213.1 182.9,208.8 178.6,211.3 170.1,208.8 163.4,212.5 165.3,220.4 166.5,225.9 162.0,232.3 159.2,231.6 155.5,231.0 153.5,228.5 150.7,225.3 150.1,219.8 145.8,218.0 145.2,214.3 147.6,210.7 144.6,203.4 144.0,199.7" fill="#83cf00"/><polygon points="162.0,232.3 166.5,225.9 165.3,220.4 163.4,212.5 170.1,208.8 178.6,211.3 182.9,208.8 184.1,213.1 186.5,216.7 190.5,222.8 188.4,226.5 187.5,230.5 184.8,229.7 177.6,233.4 173.9,237.6 170.9,242.1 163.6,240.1 163.6,236.0" fill="#b0e000"/><polygon points="131.5,228.6 143.7,229.8 151.5,231.3 152.0,236.2 150.4,242.8 155.2,248.4 157.6,253.2 158.4,257.0 159.9,261.3 159.6,263.5 156.0,265.9 155.2,267.2 153.0,265.3 143.2,261.1 137.2,254.6 132.5,252.8 128.4,252.7 130.7,244.0 132.0,228.8" fill="#83cf00"/><polygon points="101.5,219.6 114.3,224.6 123.0,227.0 131.5,228.6 132.0,228.8 130.7,244.0 128.4,252.7 124.9,255.6 119.8,256.8 114.6,258.4 110.3,261.5 106.1,265.5 96.3,275.3 93.0,279.5 91.8,280.5 92.3,276.5 93.3,271.0 94.6,264.9 91.5,258.2 87.3,248.2 90.3,237.3 90.7,233.8 93.0,232.9 94.0,235.7 96.8,234.8 98.7,236.7 100.6,226.2" fill="#83cf00"/><polygon points="92.0,220.8 101.5,219.6 100.6,226.2 98.7,236.7 96.8,234.8 94.0,235.7 93.0,232.9 90.7,233.8 90.2,230.0" fill="#83cf00"/><polygon points="92.7,186.0 96.5,180.4 102.6,174.9 111.1,171.3 121.5,169.4 129.3,165.8 128.7,171.9 129.0,173.4 130.2,180.8 130.2,185.9 125.7,189.3 122.0,192.9 120.2,195.3 120.1,198.4 120.8,200.8 123.2,204.5 125.7,207.5 128.1,210.5 129.9,211.7 129.3,219.0 130.4,225.1 131.5,228.6 123.0,227.0 114.3,224.6 101.5,219.6 92.0,220.8 94.0,214.9 95.8,207.3 94.9,199.7 92.8,187.7" fill="#e6f604"/><polygon points="141.3,55.0 143.2,46.5 147.0,39.5 152.5,35.2 161.6,32.8 168.9,30.3 175.0,27.5 182.3,27.9 189.6,29.7 194.4,32.2 197.5,36.4 200.5,41.3 204.2,46.1 206.0,48.6 202.3,51.5 198.1,55.8 198.9,62.3 200.6,72.0 199.7,80.5 196.8,89.2 191.2,97.3 190.6,103.5 196.8,109.2 206.3,112.0 215.8,113.0 220.5,117.2 225.0,115.5 227.9,114.0 230.8,110.5 232.6,108.2 234.3,107.3 235.8,109.3 236.1,112.9 235.2,117.5 234.0,123.5 233.0,134.9 239.7,140.5 243.5,145.3 244.4,151.9 243.5,157.6 248.2,163.3 253.0,167.1 264.3,165.6 272.9,162.9 283.3,164.8 296.6,166.7 309.9,173.7 325.1,180.0 330.4,191.4 317.5,201.2 304.2,210.7 293.9,219.0 274.9,232.3 255.9,245.5 244.5,253.1 236.9,250.9 229.0,249.1 221.0,248.3 212.0,250.4 201.5,251.8 191.0,254.6 181.2,255.7 170.6,257.2 165.1,258.0 160.8,260.2 159.9,261.3 159.6,263.5 156.0,265.9 155.2,267.2 155.4,274.7 156.9,284.2 154.1,288.0 156.9,295.5 160.6,303.0 156.0,306.9 156.6,313.0 157.7,318.7 154.3,321.0 150.0,320.5 145.8,319.9 143.4,321.1 139.7,325.9 137.9,330.8 138.3,336.9 137.3,342.4 133.6,347.2 126.3,349.0 119.7,351.5 117.8,355.0 116.0,353.9 114.8,349.7 109.3,344.2 107.5,340.5 99.6,337.5 102.3,329.0 105.1,320.9 101.2,320.7 88.0,320.1 80.8,318.8 78.5,318.2 73.7,320.1 71.8,316.3 75.6,311.6 74.7,307.8 78.5,303.0 80.4,298.3 74.7,293.5 69.0,289.7 60.9,285.7 62.8,276.2 63.7,269.6 67.5,265.8 68.5,261.1 71.3,249.7 70.4,242.1 70.2,232.6 69.3,228.1 68.3,222.4 66.8,214.5 66.4,205.4 65.5,195.9 64.1,192.8 61.1,189.8 57.4,187.8 46.5,187.4 33.1,188.0 25.8,190.4 19.5,192.2 23.4,186.7 29.5,178.2 35.1,171.9 47.4,161.5 62.3,147.2 71.4,138.7 75.9,134.0 83.6,123.5 95.7,119.6 97.6,128.4 100.2,136.9 101.8,137.1 107.3,138.7 109.1,137.1 111.2,136.9 111.5,129.6 118.8,126.9 118.0,124.3 114.2,113.0 113.3,105.4 119.0,97.8 128.5,90.2 136.1,83.5 140.5,79.8 142.2,72.0 141.4,63.9" fill="none" stroke-width="1.5"/></g></g><rect x="644.20" y="119.80" width="8.2" height="3.8" fill="#38a800" stroke="#5a5a2a" stroke-width="0.45"/><text x="653.20" y="123.00" font-size="3.7" fill="#5d6688">0 - 0.100</text><rect x="644.20" y="125.45" width="8.2" height="3.8" fill="#5aba00" stroke="#5a5a2a" stroke-width="0.45"/><text x="653.20" y="128.65" font-size="3.7" fill="#5d6688">0.101 - 0.200</text><rect x="644.20" y="131.10" width="8.2" height="3.8" fill="#83cf00" stroke="#5a5a2a" stroke-width="0.45"/><text x="653.20" y="134.30" font-size="3.7" fill="#5d6688">0.201 - 0.300</text><rect x="644.20" y="136.75" width="8.2" height="3.8" fill="#b0e000" stroke="#5a5a2a" stroke-width="0.45"/><text x="653.20" y="139.95" font-size="3.7" fill="#5d6688">0.301 - 0.400</text><rect x="644.20" y="142.40" width="8.2" height="3.8" fill="#e6f604" stroke="#5a5a2a" stroke-width="0.45"/><text x="653.20" y="145.60" font-size="3.7" fill="#5d6688">0.401 - 0.500</text><rect x="644.20" y="148.05" width="8.2" height="3.8" fill="#ffe100" stroke="#5a5a2a" stroke-width="0.45"/><text x="653.20" y="151.25" font-size="3.7" fill="#5d6688">0.501 - 0.600</text><rect x="644.20" y="153.70" width="8.2" height="3.8" fill="#ffaa00" stroke="#5a5a2a" stroke-width="0.45"/><text x="653.20" y="156.90" font-size="3.7" fill="#5d6688">0.601 - 0.700</text><rect x="644.20" y="159.35" width="8.2" height="3.8" fill="#ff7300" stroke="#5a5a2a" stroke-width="0.45"/><text x="653.20" y="162.55" font-size="3.7" fill="#5d6688">0.701 - 0.800</text><rect x="644.20" y="165.00" width="8.2" height="3.8" fill="#ff3700" stroke="#5a5a2a" stroke-width="0.45"/><text x="653.20" y="168.20" font-size="3.7" fill="#5d6688">0.801 - 0.900</text><rect x="644.20" y="170.65" width="8.2" height="3.8" fill="#ff0000" stroke="#5a5a2a" stroke-width="0.45"/><text x="653.20" y="173.85" font-size="3.7" fill="#5d6688">0.901 - 1</text><g transform="translate(362.80 199.40) scale(0.4400 0.4426)"><g stroke="#4a6c00" stroke-width="1.0" stroke-linejoin="round"><polygon points="141.3,55.0 143.2,46.5 147.0,39.5 152.5,35.2 161.6,32.8 168.9,30.3 175.0,27.5 182.3,27.9 189.6,29.7 194.4,32.2 197.5,36.4 200.5,41.3 204.2,46.1 206.0,48.6 202.3,51.5 197.0,47.2 193.3,44.5 191.6,43.9 190.6,41.8 186.2,41.2 183.0,43.9 181.9,49.9 180.3,56.4 178.1,61.3 173.8,61.2 154.3,58.3 151.6,59.4 154.3,62.0 162.4,67.2 168.9,73.7 172.5,80.2 174.0,82.6 174.4,88.3 168.1,89.2 162.6,89.8 160.2,92.8 157.1,96.2 151.7,95.3 149.2,91.6 151.1,86.7 149.8,83.7 140.5,79.8 142.2,72.0 141.4,63.9" fill="#83cf00"/><polygon points="202.3,51.5 198.1,55.8 198.9,62.3 200.6,72.0 199.7,80.5 196.8,89.2 191.2,97.3 190.6,103.5 196.8,109.2 206.3,112.0 215.8,113.0 220.5,117.2 217.7,120.5 206.3,126.2 195.2,130.8 189.2,133.8 188.0,136.8 186.4,136.7 175.5,136.0 162.6,134.8 151.2,134.2 147.4,131.0 155.0,126.2 158.8,119.6 156.0,116.8 157.9,113.9 165.5,111.0 171.7,106.3 173.6,97.8 174.4,88.3 174.0,82.6 172.5,80.2 168.9,73.7 162.4,67.2 154.3,62.0 151.6,59.4 154.3,58.3 173.8,61.2 178.1,61.3 180.3,56.4 181.9,49.9 183.0,43.9 186.2,41.2 190.6,41.8 191.6,43.9 193.3,44.5 197.0,47.2" fill="#b0e000"/><polygon points="118.8,126.9 118.0,124.3 114.2,113.0 113.3,105.4 119.0,97.8 128.5,90.2 136.1,83.5 140.5,79.8 149.8,83.7 151.1,86.7 149.2,91.6 151.7,95.3 157.1,96.2 160.2,92.8 162.6,89.8 168.1,89.2 174.4,88.3 173.6,97.8 171.7,106.3 165.5,111.0 157.9,113.9 156.0,116.8 158.8,119.6 155.0,126.2 147.4,131.0 151.2,134.2 140.4,138.3 136.6,143.0 128.0,144.5 123.2,135.2" fill="#b0e000"/><polygon points="220.5,117.2 225.0,115.5 227.9,114.0 230.8,110.5 232.6,108.2 234.3,107.3 235.8,109.3 236.1,112.9 235.2,117.5 234.0,123.5 233.0,134.9 239.7,140.5 243.5,145.3 244.4,151.9 243.5,157.6 248.2,163.3 253.0,167.1 264.3,165.6 272.9,162.9 283.3,164.8 296.6,166.7 309.9,173.7 325.1,180.0 330.4,191.4 317.5,201.2 304.2,210.7 293.9,219.0 274.9,232.3 255.9,245.5 244.5,253.1 236.9,250.9 229.0,249.1 221.0,248.3 212.0,250.4 201.5,251.8 198.1,240.7 194.5,230.5 190.5,222.8 186.5,216.7 184.1,213.1 185.6,207.5 188.4,203.4 192.5,199.2 196.8,194.5 197.6,189.0 195.5,183.8 193.3,177.0 194.0,172.0 196.4,163.0 200.1,149.7 199.2,142.1 195.2,130.8 206.3,126.2 217.7,120.5" fill="#b0e000"/><polygon points="201.5,251.8 191.0,254.6 187.3,250.4 184.8,248.6 181.2,247.0 171.5,246.5 164.2,246.7 163.6,240.1 170.9,242.1 173.9,237.6 177.6,233.4 184.8,229.7 187.5,230.5 188.4,226.5 190.5,222.8 194.5,230.5 198.1,240.7" fill="#b0e000"/><polygon points="191.0,254.6 181.2,255.7 170.6,257.2 165.1,258.0 160.8,260.2 159.9,261.3 158.4,257.0 157.6,253.2 155.2,248.4 150.4,242.8 152.0,236.2 151.5,231.3 155.5,231.0 159.2,231.6 162.0,232.3 163.6,236.0 163.6,240.1 164.2,246.7 171.5,246.5 181.2,247.0 184.8,248.6 187.3,250.4" fill="#b0e000"/><polygon points="155.2,267.2 155.4,274.7 156.9,284.2 154.1,288.0 156.9,295.5 160.6,303.0 156.0,306.9 156.6,313.0 157.7,318.7 154.3,321.0 150.0,320.5 145.8,319.9 143.4,321.1 139.7,325.9 137.9,330.8 138.3,336.9 137.3,342.4 133.6,347.2 126.3,349.0 119.7,351.5 117.8,355.0 116.0,353.9 114.8,349.7 109.3,344.2 107.5,340.5 99.6,337.5 102.3,329.0 105.1,320.9 101.2,320.7 100.9,311.6 99.3,302.1 95.5,294.5 88.9,289.0 89.3,285.7 91.8,280.5 93.0,279.5 96.3,275.3 106.1,265.5 110.3,261.5 114.6,258.4 119.8,256.8 124.9,255.6 128.4,252.7 132.5,252.8 137.2,254.6 143.2,261.1 153.0,265.3" fill="#e6f604"/><polygon points="101.2,320.7 88.0,320.1 80.8,318.8 83.2,307.8 86.1,296.4 88.9,289.0 95.5,294.5 99.3,302.1 100.9,311.6" fill="#b0e000"/><polygon points="80.8,318.8 78.5,318.2 73.7,320.1 71.8,316.3 75.6,311.6 74.7,307.8 78.5,303.0 80.4,298.3 74.7,293.5 69.0,289.7 60.9,285.7 62.8,276.2 63.7,269.6 67.5,265.8 75.1,252.5 80.8,244.0 90.3,237.3 87.3,248.2 91.5,258.2 94.6,264.9 93.3,271.0 92.3,276.5 91.8,280.5 89.3,285.7 88.9,289.0 86.1,296.4 83.2,307.8" fill="#ffe100"/><polygon points="67.5,265.8 68.5,261.1 71.3,249.7 70.4,242.1 70.2,232.6 69.3,228.1 81.6,225.3 92.0,220.8 90.2,230.0 90.7,233.8 90.3,237.3 80.8,244.0 75.1,252.5" fill="#b0e000"/><polygon points="69.3,228.1 68.3,222.4 66.8,214.5 81.3,215.6 80.1,211.7 81.9,212.6 82.5,211.1 90.3,211.1 90.8,209.3 87.4,208.7 86.1,203.2 89.2,200.8 88.6,189.6 92.8,187.7 94.9,199.7 95.8,207.3 94.0,214.9 92.0,220.8 81.6,225.3" fill="#b0e000"/><polygon points="66.8,214.5 66.4,205.4 65.5,195.9 75.9,192.5 88.6,189.6 89.2,200.8 86.1,203.2 87.4,208.7 90.8,209.3 90.3,211.1 82.5,211.1 81.9,212.6 80.1,211.7 81.3,215.6" fill="#e6f604"/><polygon points="65.5,195.9 64.1,192.8 61.1,189.8 57.4,187.8 46.5,187.4 33.1,188.0 25.8,190.4 19.5,192.2 23.4,186.7 29.5,178.2 35.1,171.9 46.5,170.9 58.6,168.2 70.0,166.0 76.0,164.3 81.9,163.1 90.2,162.8 91.3,168.2 91.9,174.3 92.6,181.6 92.7,186.0 92.8,187.7 88.6,189.6 75.9,192.5" fill="#b0e000"/><polygon points="35.1,171.9 47.4,161.5 62.3,147.2 65.5,150.2 69.5,152.8 72.2,153.8 76.0,154.8 81.9,156.0 87.9,157.4 89.0,158.9 90.2,162.8 81.9,163.1 76.0,164.3 70.0,166.0 58.6,168.2 46.5,170.9" fill="#b0e000"/><polygon points="62.3,147.2 71.4,138.7 70.6,142.5 73.5,147.0 72.5,150.5 69.5,152.8 65.5,150.2" fill="#b0e000"/><polygon points="71.4,138.7 75.9,134.0 83.6,123.5 95.7,119.6 97.6,128.4 100.2,136.9 100.6,143.0 98.8,150.3 96.9,154.5 100.9,157.8 96.5,164.6 91.3,168.2 90.2,162.8 89.0,158.9 87.9,157.4 81.9,156.0 76.0,154.8 72.2,153.8 69.5,152.8 72.5,150.5 73.5,147.0 70.6,142.5" fill="#b0e000"/><polygon points="100.2,136.9 101.8,137.1 107.3,138.7 109.1,137.1 111.2,136.9 112.8,135.0 115.8,140.5 117.6,146.6 118.3,154.0 119.6,159.7 121.5,169.4 111.1,171.3 102.6,174.9 96.5,180.4 92.7,186.0 92.6,181.6 91.9,174.3 91.3,168.2 96.5,164.6 100.9,157.8 96.9,154.5 98.8,150.3 100.6,143.0" fill="#b0e000"/><polygon points="111.2,136.9 111.5,129.6 118.8,126.9 123.2,135.2 128.0,144.5 129.9,155.4 129.6,162.0 129.3,165.8 121.5,169.4 119.6,159.7 118.3,154.0 117.6,146.6 115.8,140.5 112.8,135.0" fill="#b0e000"/><polygon points="128.0,144.5 136.6,143.0 138.3,151.6 137.6,162.2 137.5,170.1 133.2,172.3 129.0,173.4 128.7,171.9 129.3,165.8 129.6,162.0 129.9,155.4" fill="#b0e000"/><polygon points="136.6,143.0 140.4,138.3 151.2,134.2 162.6,134.8 175.5,136.0 174.2,141.0 172.3,147.3 174.7,154.6 173.5,161.9 169.8,165.5 166.8,167.4 165.6,164.3 160.1,162.5 157.1,163.7 155.9,168.6 149.2,171.6 141.1,173.8 137.5,170.1 137.6,162.2 138.3,151.6" fill="#b0e000"/><polygon points="175.5,136.0 186.4,136.7 188.0,136.8 189.2,133.8 195.2,130.8 199.2,142.1 200.1,149.7 196.4,163.0 194.0,172.0 193.3,177.0 195.5,183.8 197.6,189.0 196.8,194.5 192.5,199.2 187.5,197.2 180.0,194.8 172.0,193.5 166.1,194.2 158.2,194.5 155.7,191.1 150.3,188.1 146.0,184.5 143.0,182.0 138.1,177.2 141.1,173.8 149.2,171.6 155.9,168.6 157.1,163.7 160.1,162.5 165.6,164.3 166.8,167.4 169.8,165.5 173.5,161.9 174.7,154.6 172.3,147.3 174.2,141.0" fill="#83cf00"/><polygon points="129.0,173.4 133.2,172.3 137.5,170.1 141.1,173.8 138.1,177.2 143.0,182.0 146.0,184.5 144.2,189.3 142.0,194.2 139.3,197.8 137.5,201.5 136.9,205.1 133.2,205.7 129.7,205.8 129.5,200.0 130.8,192.3 130.2,185.9 130.2,180.8" fill="#83cf00"/><polygon points="146.0,184.5 150.3,188.1 155.7,191.1 158.2,194.5 147.8,194.4 142.0,194.2 144.2,189.3" fill="#83cf00"/><polygon points="130.2,185.9 125.7,189.3 122.0,192.9 120.2,195.3 120.1,198.4 120.8,200.8 123.2,204.5 125.7,207.5 128.1,210.5 129.9,211.7 129.7,205.8 129.5,200.0 130.8,192.3" fill="#b0e000"/><polygon points="129.7,205.8 133.2,205.7 136.9,205.1 137.5,201.5 139.3,197.8 142.0,194.2 147.8,194.4 144.0,199.7 144.6,203.4 147.6,210.7 145.2,214.3 145.8,218.0 150.1,219.8 150.7,225.3 153.5,228.5 155.5,231.0 151.5,231.3 143.7,229.8 131.5,228.6 130.4,225.1 129.3,219.0 129.9,211.7" fill="#b0e000"/><polygon points="147.8,194.4 158.2,194.5 166.1,194.2 172.0,193.5 180.0,194.8 187.5,197.2 192.5,199.2 188.4,203.4 185.6,207.5 184.1,213.1 182.9,208.8 178.6,211.3 170.1,208.8 163.4,212.5 165.3,220.4 166.5,225.9 162.0,232.3 159.2,231.6 155.5,231.0 153.5,228.5 150.7,225.3 150.1,219.8 145.8,218.0 145.2,214.3 147.6,210.7 144.6,203.4 144.0,199.7" fill="#b0e000"/><polygon points="162.0,232.3 166.5,225.9 165.3,220.4 163.4,212.5 170.1,208.8 178.6,211.3 182.9,208.8 184.1,213.1 186.5,216.7 190.5,222.8 188.4,226.5 187.5,230.5 184.8,229.7 177.6,233.4 173.9,237.6 170.9,242.1 163.6,240.1 163.6,236.0" fill="#b0e000"/><polygon points="131.5,228.6 143.7,229.8 151.5,231.3 152.0,236.2 150.4,242.8 155.2,248.4 157.6,253.2 158.4,257.0 159.9,261.3 159.6,263.5 156.0,265.9 155.2,267.2 153.0,265.3 143.2,261.1 137.2,254.6 132.5,252.8 128.4,252.7 130.7,244.0 132.0,228.8" fill="#b0e000"/><polygon points="101.5,219.6 114.3,224.6 123.0,227.0 131.5,228.6 132.0,228.8 130.7,244.0 128.4,252.7 124.9,255.6 119.8,256.8 114.6,258.4 110.3,261.5 106.1,265.5 96.3,275.3 93.0,279.5 91.8,280.5 92.3,276.5 93.3,271.0 94.6,264.9 91.5,258.2 87.3,248.2 90.3,237.3 90.7,233.8 93.0,232.9 94.0,235.7 96.8,234.8 98.7,236.7 100.6,226.2" fill="#b0e000"/><polygon points="92.0,220.8 101.5,219.6 100.6,226.2 98.7,236.7 96.8,234.8 94.0,235.7 93.0,232.9 90.7,233.8 90.2,230.0" fill="#b0e000"/><polygon points="92.7,186.0 96.5,180.4 102.6,174.9 111.1,171.3 121.5,169.4 129.3,165.8 128.7,171.9 129.0,173.4 130.2,180.8 130.2,185.9 125.7,189.3 122.0,192.9 120.2,195.3 120.1,198.4 120.8,200.8 123.2,204.5 125.7,207.5 128.1,210.5 129.9,211.7 129.3,219.0 130.4,225.1 131.5,228.6 123.0,227.0 114.3,224.6 101.5,219.6 92.0,220.8 94.0,214.9 95.8,207.3 94.9,199.7 92.8,187.7" fill="#83cf00"/><polygon points="141.3,55.0 143.2,46.5 147.0,39.5 152.5,35.2 161.6,32.8 168.9,30.3 175.0,27.5 182.3,27.9 189.6,29.7 194.4,32.2 197.5,36.4 200.5,41.3 204.2,46.1 206.0,48.6 202.3,51.5 198.1,55.8 198.9,62.3 200.6,72.0 199.7,80.5 196.8,89.2 191.2,97.3 190.6,103.5 196.8,109.2 206.3,112.0 215.8,113.0 220.5,117.2 225.0,115.5 227.9,114.0 230.8,110.5 232.6,108.2 234.3,107.3 235.8,109.3 236.1,112.9 235.2,117.5 234.0,123.5 233.0,134.9 239.7,140.5 243.5,145.3 244.4,151.9 243.5,157.6 248.2,163.3 253.0,167.1 264.3,165.6 272.9,162.9 283.3,164.8 296.6,166.7 309.9,173.7 325.1,180.0 330.4,191.4 317.5,201.2 304.2,210.7 293.9,219.0 274.9,232.3 255.9,245.5 244.5,253.1 236.9,250.9 229.0,249.1 221.0,248.3 212.0,250.4 201.5,251.8 191.0,254.6 181.2,255.7 170.6,257.2 165.1,258.0 160.8,260.2 159.9,261.3 159.6,263.5 156.0,265.9 155.2,267.2 155.4,274.7 156.9,284.2 154.1,288.0 156.9,295.5 160.6,303.0 156.0,306.9 156.6,313.0 157.7,318.7 154.3,321.0 150.0,320.5 145.8,319.9 143.4,321.1 139.7,325.9 137.9,330.8 138.3,336.9 137.3,342.4 133.6,347.2 126.3,349.0 119.7,351.5 117.8,355.0 116.0,353.9 114.8,349.7 109.3,344.2 107.5,340.5 99.6,337.5 102.3,329.0 105.1,320.9 101.2,320.7 88.0,320.1 80.8,318.8 78.5,318.2 73.7,320.1 71.8,316.3 75.6,311.6 74.7,307.8 78.5,303.0 80.4,298.3 74.7,293.5 69.0,289.7 60.9,285.7 62.8,276.2 63.7,269.6 67.5,265.8 68.5,261.1 71.3,249.7 70.4,242.1 70.2,232.6 69.3,228.1 68.3,222.4 66.8,214.5 66.4,205.4 65.5,195.9 64.1,192.8 61.1,189.8 57.4,187.8 46.5,187.4 33.1,188.0 25.8,190.4 19.5,192.2 23.4,186.7 29.5,178.2 35.1,171.9 47.4,161.5 62.3,147.2 71.4,138.7 75.9,134.0 83.6,123.5 95.7,119.6 97.6,128.4 100.2,136.9 101.8,137.1 107.3,138.7 109.1,137.1 111.2,136.9 111.5,129.6 118.8,126.9 118.0,124.3 114.2,113.0 113.3,105.4 119.0,97.8 128.5,90.2 136.1,83.5 140.5,79.8 142.2,72.0 141.4,63.9" fill="none" stroke-width="1.5"/></g></g><rect x="481.60" y="305.90" width="8.2" height="3.8" fill="#38a800" stroke="#5a5a2a" stroke-width="0.45"/><text x="490.60" y="309.10" font-size="3.7" fill="#5d6688">0 - 0.100</text><rect x="481.60" y="311.44" width="8.2" height="3.8" fill="#5aba00" stroke="#5a5a2a" stroke-width="0.45"/><text x="490.60" y="314.64" font-size="3.7" fill="#5d6688">0.101 - 0.200</text><rect x="481.60" y="316.98" width="8.2" height="3.8" fill="#83cf00" stroke="#5a5a2a" stroke-width="0.45"/><text x="490.60" y="320.18" font-size="3.7" fill="#5d6688">0.201 - 0.300</text><rect x="481.60" y="322.52" width="8.2" height="3.8" fill="#b0e000" stroke="#5a5a2a" stroke-width="0.45"/><text x="490.60" y="325.72" font-size="3.7" fill="#5d6688">0.301 - 0.400</text><rect x="481.60" y="328.06" width="8.2" height="3.8" fill="#e6f604" stroke="#5a5a2a" stroke-width="0.45"/><text x="490.60" y="331.26" font-size="3.7" fill="#5d6688">0.401 - 0.500</text><rect x="481.60" y="333.60" width="8.2" height="3.8" fill="#ffe100" stroke="#5a5a2a" stroke-width="0.45"/><text x="490.60" y="336.80" font-size="3.7" fill="#5d6688">0.501 - 0.600</text><rect x="481.60" y="339.14" width="8.2" height="3.8" fill="#ffaa00" stroke="#5a5a2a" stroke-width="0.45"/><text x="490.60" y="342.34" font-size="3.7" fill="#5d6688">0.601 - 0.700</text><rect x="481.60" y="344.68" width="8.2" height="3.8" fill="#ff7300" stroke="#5a5a2a" stroke-width="0.45"/><text x="490.60" y="347.88" font-size="3.7" fill="#5d6688">0.701 - 0.800</text><rect x="481.60" y="350.22" width="8.2" height="3.8" fill="#ff3700" stroke="#5a5a2a" stroke-width="0.45"/><text x="490.60" y="353.42" font-size="3.7" fill="#5d6688">0.801 - 0.900</text><rect x="481.60" y="355.76" width="8.2" height="3.8" fill="#ff0000" stroke="#5a5a2a" stroke-width="0.45"/><text x="490.60" y="358.96" font-size="3.7" fill="#5d6688">0.901 - 1</text><g transform="translate(526.00 196.10) scale(0.4400 0.4426)"><g stroke="#4a6c00" stroke-width="1.0" stroke-linejoin="round"><polygon points="141.3,55.0 143.2,46.5 147.0,39.5 152.5,35.2 161.6,32.8 168.9,30.3 175.0,27.5 182.3,27.9 189.6,29.7 194.4,32.2 197.5,36.4 200.5,41.3 204.2,46.1 206.0,48.6 202.3,51.5 197.0,47.2 193.3,44.5 191.6,43.9 190.6,41.8 186.2,41.2 183.0,43.9 181.9,49.9 180.3,56.4 178.1,61.3 173.8,61.2 154.3,58.3 151.6,59.4 154.3,62.0 162.4,67.2 168.9,73.7 172.5,80.2 174.0,82.6 174.4,88.3 168.1,89.2 162.6,89.8 160.2,92.8 157.1,96.2 151.7,95.3 149.2,91.6 151.1,86.7 149.8,83.7 140.5,79.8 142.2,72.0 141.4,63.9" fill="#83cf00"/><polygon points="202.3,51.5 198.1,55.8 198.9,62.3 200.6,72.0 199.7,80.5 196.8,89.2 191.2,97.3 190.6,103.5 196.8,109.2 206.3,112.0 215.8,113.0 220.5,117.2 217.7,120.5 206.3,126.2 195.2,130.8 189.2,133.8 188.0,136.8 186.4,136.7 175.5,136.0 162.6,134.8 151.2,134.2 147.4,131.0 155.0,126.2 158.8,119.6 156.0,116.8 157.9,113.9 165.5,111.0 171.7,106.3 173.6,97.8 174.4,88.3 174.0,82.6 172.5,80.2 168.9,73.7 162.4,67.2 154.3,62.0 151.6,59.4 154.3,58.3 173.8,61.2 178.1,61.3 180.3,56.4 181.9,49.9 183.0,43.9 186.2,41.2 190.6,41.8 191.6,43.9 193.3,44.5 197.0,47.2" fill="#5aba00"/><polygon points="118.8,126.9 118.0,124.3 114.2,113.0 113.3,105.4 119.0,97.8 128.5,90.2 136.1,83.5 140.5,79.8 149.8,83.7 151.1,86.7 149.2,91.6 151.7,95.3 157.1,96.2 160.2,92.8 162.6,89.8 168.1,89.2 174.4,88.3 173.6,97.8 171.7,106.3 165.5,111.0 157.9,113.9 156.0,116.8 158.8,119.6 155.0,126.2 147.4,131.0 151.2,134.2 140.4,138.3 136.6,143.0 128.0,144.5 123.2,135.2" fill="#83cf00"/><polygon points="220.5,117.2 225.0,115.5 227.9,114.0 230.8,110.5 232.6,108.2 234.3,107.3 235.8,109.3 236.1,112.9 235.2,117.5 234.0,123.5 233.0,134.9 239.7,140.5 243.5,145.3 244.4,151.9 243.5,157.6 248.2,163.3 253.0,167.1 264.3,165.6 272.9,162.9 283.3,164.8 296.6,166.7 309.9,173.7 325.1,180.0 330.4,191.4 317.5,201.2 304.2,210.7 293.9,219.0 274.9,232.3 255.9,245.5 244.5,253.1 236.9,250.9 229.0,249.1 221.0,248.3 212.0,250.4 201.5,251.8 198.1,240.7 194.5,230.5 190.5,222.8 186.5,216.7 184.1,213.1 185.6,207.5 188.4,203.4 192.5,199.2 196.8,194.5 197.6,189.0 195.5,183.8 193.3,177.0 194.0,172.0 196.4,163.0 200.1,149.7 199.2,142.1 195.2,130.8 206.3,126.2 217.7,120.5" fill="#83cf00"/><polygon points="201.5,251.8 191.0,254.6 187.3,250.4 184.8,248.6 181.2,247.0 171.5,246.5 164.2,246.7 163.6,240.1 170.9,242.1 173.9,237.6 177.6,233.4 184.8,229.7 187.5,230.5 188.4,226.5 190.5,222.8 194.5,230.5 198.1,240.7" fill="#83cf00"/><polygon points="191.0,254.6 181.2,255.7 170.6,257.2 165.1,258.0 160.8,260.2 159.9,261.3 158.4,257.0 157.6,253.2 155.2,248.4 150.4,242.8 152.0,236.2 151.5,231.3 155.5,231.0 159.2,231.6 162.0,232.3 163.6,236.0 163.6,240.1 164.2,246.7 171.5,246.5 181.2,247.0 184.8,248.6 187.3,250.4" fill="#83cf00"/><polygon points="155.2,267.2 155.4,274.7 156.9,284.2 154.1,288.0 156.9,295.5 160.6,303.0 156.0,306.9 156.6,313.0 157.7,318.7 154.3,321.0 150.0,320.5 145.8,319.9 143.4,321.1 139.7,325.9 137.9,330.8 138.3,336.9 137.3,342.4 133.6,347.2 126.3,349.0 119.7,351.5 117.8,355.0 116.0,353.9 114.8,349.7 109.3,344.2 107.5,340.5 99.6,337.5 102.3,329.0 105.1,320.9 101.2,320.7 100.9,311.6 99.3,302.1 95.5,294.5 88.9,289.0 89.3,285.7 91.8,280.5 93.0,279.5 96.3,275.3 106.1,265.5 110.3,261.5 114.6,258.4 119.8,256.8 124.9,255.6 128.4,252.7 132.5,252.8 137.2,254.6 143.2,261.1 153.0,265.3" fill="#83cf00"/><polygon points="101.2,320.7 88.0,320.1 80.8,318.8 83.2,307.8 86.1,296.4 88.9,289.0 95.5,294.5 99.3,302.1 100.9,311.6" fill="#83cf00"/><polygon points="80.8,318.8 78.5,318.2 73.7,320.1 71.8,316.3 75.6,311.6 74.7,307.8 78.5,303.0 80.4,298.3 74.7,293.5 69.0,289.7 60.9,285.7 62.8,276.2 63.7,269.6 67.5,265.8 75.1,252.5 80.8,244.0 90.3,237.3 87.3,248.2 91.5,258.2 94.6,264.9 93.3,271.0 92.3,276.5 91.8,280.5 89.3,285.7 88.9,289.0 86.1,296.4 83.2,307.8" fill="#b0e000"/><polygon points="67.5,265.8 68.5,261.1 71.3,249.7 70.4,242.1 70.2,232.6 69.3,228.1 81.6,225.3 92.0,220.8 90.2,230.0 90.7,233.8 90.3,237.3 80.8,244.0 75.1,252.5" fill="#b0e000"/><polygon points="69.3,228.1 68.3,222.4 66.8,214.5 81.3,215.6 80.1,211.7 81.9,212.6 82.5,211.1 90.3,211.1 90.8,209.3 87.4,208.7 86.1,203.2 89.2,200.8 88.6,189.6 92.8,187.7 94.9,199.7 95.8,207.3 94.0,214.9 92.0,220.8 81.6,225.3" fill="#b0e000"/><polygon points="66.8,214.5 66.4,205.4 65.5,195.9 75.9,192.5 88.6,189.6 89.2,200.8 86.1,203.2 87.4,208.7 90.8,209.3 90.3,211.1 82.5,211.1 81.9,212.6 80.1,211.7 81.3,215.6" fill="#83cf00"/><polygon points="65.5,195.9 64.1,192.8 61.1,189.8 57.4,187.8 46.5,187.4 33.1,188.0 25.8,190.4 19.5,192.2 23.4,186.7 29.5,178.2 35.1,171.9 46.5,170.9 58.6,168.2 70.0,166.0 76.0,164.3 81.9,163.1 90.2,162.8 91.3,168.2 91.9,174.3 92.6,181.6 92.7,186.0 92.8,187.7 88.6,189.6 75.9,192.5" fill="#83cf00"/><polygon points="35.1,171.9 47.4,161.5 62.3,147.2 65.5,150.2 69.5,152.8 72.2,153.8 76.0,154.8 81.9,156.0 87.9,157.4 89.0,158.9 90.2,162.8 81.9,163.1 76.0,164.3 70.0,166.0 58.6,168.2 46.5,170.9" fill="#b0e000"/><polygon points="62.3,147.2 71.4,138.7 70.6,142.5 73.5,147.0 72.5,150.5 69.5,152.8 65.5,150.2" fill="#83cf00"/><polygon points="71.4,138.7 75.9,134.0 83.6,123.5 95.7,119.6 97.6,128.4 100.2,136.9 100.6,143.0 98.8,150.3 96.9,154.5 100.9,157.8 96.5,164.6 91.3,168.2 90.2,162.8 89.0,158.9 87.9,157.4 81.9,156.0 76.0,154.8 72.2,153.8 69.5,152.8 72.5,150.5 73.5,147.0 70.6,142.5" fill="#83cf00"/><polygon points="100.2,136.9 101.8,137.1 107.3,138.7 109.1,137.1 111.2,136.9 112.8,135.0 115.8,140.5 117.6,146.6 118.3,154.0 119.6,159.7 121.5,169.4 111.1,171.3 102.6,174.9 96.5,180.4 92.7,186.0 92.6,181.6 91.9,174.3 91.3,168.2 96.5,164.6 100.9,157.8 96.9,154.5 98.8,150.3 100.6,143.0" fill="#83cf00"/><polygon points="111.2,136.9 111.5,129.6 118.8,126.9 123.2,135.2 128.0,144.5 129.9,155.4 129.6,162.0 129.3,165.8 121.5,169.4 119.6,159.7 118.3,154.0 117.6,146.6 115.8,140.5 112.8,135.0" fill="#83cf00"/><polygon points="128.0,144.5 136.6,143.0 138.3,151.6 137.6,162.2 137.5,170.1 133.2,172.3 129.0,173.4 128.7,171.9 129.3,165.8 129.6,162.0 129.9,155.4" fill="#83cf00"/><polygon points="136.6,143.0 140.4,138.3 151.2,134.2 162.6,134.8 175.5,136.0 174.2,141.0 172.3,147.3 174.7,154.6 173.5,161.9 169.8,165.5 166.8,167.4 165.6,164.3 160.1,162.5 157.1,163.7 155.9,168.6 149.2,171.6 141.1,173.8 137.5,170.1 137.6,162.2 138.3,151.6" fill="#b0e000"/><polygon points="175.5,136.0 186.4,136.7 188.0,136.8 189.2,133.8 195.2,130.8 199.2,142.1 200.1,149.7 196.4,163.0 194.0,172.0 193.3,177.0 195.5,183.8 197.6,189.0 196.8,194.5 192.5,199.2 187.5,197.2 180.0,194.8 172.0,193.5 166.1,194.2 158.2,194.5 155.7,191.1 150.3,188.1 146.0,184.5 143.0,182.0 138.1,177.2 141.1,173.8 149.2,171.6 155.9,168.6 157.1,163.7 160.1,162.5 165.6,164.3 166.8,167.4 169.8,165.5 173.5,161.9 174.7,154.6 172.3,147.3 174.2,141.0" fill="#5aba00"/><polygon points="129.0,173.4 133.2,172.3 137.5,170.1 141.1,173.8 138.1,177.2 143.0,182.0 146.0,184.5 144.2,189.3 142.0,194.2 139.3,197.8 137.5,201.5 136.9,205.1 133.2,205.7 129.7,205.8 129.5,200.0 130.8,192.3 130.2,185.9 130.2,180.8" fill="#ffe100"/><polygon points="146.0,184.5 150.3,188.1 155.7,191.1 158.2,194.5 147.8,194.4 142.0,194.2 144.2,189.3" fill="#b0e000"/><polygon points="130.2,185.9 125.7,189.3 122.0,192.9 120.2,195.3 120.1,198.4 120.8,200.8 123.2,204.5 125.7,207.5 128.1,210.5 129.9,211.7 129.7,205.8 129.5,200.0 130.8,192.3" fill="#b0e000"/><polygon points="129.7,205.8 133.2,205.7 136.9,205.1 137.5,201.5 139.3,197.8 142.0,194.2 147.8,194.4 144.0,199.7 144.6,203.4 147.6,210.7 145.2,214.3 145.8,218.0 150.1,219.8 150.7,225.3 153.5,228.5 155.5,231.0 151.5,231.3 143.7,229.8 131.5,228.6 130.4,225.1 129.3,219.0 129.9,211.7" fill="#83cf00"/><polygon points="147.8,194.4 158.2,194.5 166.1,194.2 172.0,193.5 180.0,194.8 187.5,197.2 192.5,199.2 188.4,203.4 185.6,207.5 184.1,213.1 182.9,208.8 178.6,211.3 170.1,208.8 163.4,212.5 165.3,220.4 166.5,225.9 162.0,232.3 159.2,231.6 155.5,231.0 153.5,228.5 150.7,225.3 150.1,219.8 145.8,218.0 145.2,214.3 147.6,210.7 144.6,203.4 144.0,199.7" fill="#83cf00"/><polygon points="162.0,232.3 166.5,225.9 165.3,220.4 163.4,212.5 170.1,208.8 178.6,211.3 182.9,208.8 184.1,213.1 186.5,216.7 190.5,222.8 188.4,226.5 187.5,230.5 184.8,229.7 177.6,233.4 173.9,237.6 170.9,242.1 163.6,240.1 163.6,236.0" fill="#b0e000"/><polygon points="131.5,228.6 143.7,229.8 151.5,231.3 152.0,236.2 150.4,242.8 155.2,248.4 157.6,253.2 158.4,257.0 159.9,261.3 159.6,263.5 156.0,265.9 155.2,267.2 153.0,265.3 143.2,261.1 137.2,254.6 132.5,252.8 128.4,252.7 130.7,244.0 132.0,228.8" fill="#b0e000"/><polygon points="101.5,219.6 114.3,224.6 123.0,227.0 131.5,228.6 132.0,228.8 130.7,244.0 128.4,252.7 124.9,255.6 119.8,256.8 114.6,258.4 110.3,261.5 106.1,265.5 96.3,275.3 93.0,279.5 91.8,280.5 92.3,276.5 93.3,271.0 94.6,264.9 91.5,258.2 87.3,248.2 90.3,237.3 90.7,233.8 93.0,232.9 94.0,235.7 96.8,234.8 98.7,236.7 100.6,226.2" fill="#b0e000"/><polygon points="92.0,220.8 101.5,219.6 100.6,226.2 98.7,236.7 96.8,234.8 94.0,235.7 93.0,232.9 90.7,233.8 90.2,230.0" fill="#b0e000"/><polygon points="92.7,186.0 96.5,180.4 102.6,174.9 111.1,171.3 121.5,169.4 129.3,165.8 128.7,171.9 129.0,173.4 130.2,180.8 130.2,185.9 125.7,189.3 122.0,192.9 120.2,195.3 120.1,198.4 120.8,200.8 123.2,204.5 125.7,207.5 128.1,210.5 129.9,211.7 129.3,219.0 130.4,225.1 131.5,228.6 123.0,227.0 114.3,224.6 101.5,219.6 92.0,220.8 94.0,214.9 95.8,207.3 94.9,199.7 92.8,187.7" fill="#e6f604"/><polygon points="141.3,55.0 143.2,46.5 147.0,39.5 152.5,35.2 161.6,32.8 168.9,30.3 175.0,27.5 182.3,27.9 189.6,29.7 194.4,32.2 197.5,36.4 200.5,41.3 204.2,46.1 206.0,48.6 202.3,51.5 198.1,55.8 198.9,62.3 200.6,72.0 199.7,80.5 196.8,89.2 191.2,97.3 190.6,103.5 196.8,109.2 206.3,112.0 215.8,113.0 220.5,117.2 225.0,115.5 227.9,114.0 230.8,110.5 232.6,108.2 234.3,107.3 235.8,109.3 236.1,112.9 235.2,117.5 234.0,123.5 233.0,134.9 239.7,140.5 243.5,145.3 244.4,151.9 243.5,157.6 248.2,163.3 253.0,167.1 264.3,165.6 272.9,162.9 283.3,164.8 296.6,166.7 309.9,173.7 325.1,180.0 330.4,191.4 317.5,201.2 304.2,210.7 293.9,219.0 274.9,232.3 255.9,245.5 244.5,253.1 236.9,250.9 229.0,249.1 221.0,248.3 212.0,250.4 201.5,251.8 191.0,254.6 181.2,255.7 170.6,257.2 165.1,258.0 160.8,260.2 159.9,261.3 159.6,263.5 156.0,265.9 155.2,267.2 155.4,274.7 156.9,284.2 154.1,288.0 156.9,295.5 160.6,303.0 156.0,306.9 156.6,313.0 157.7,318.7 154.3,321.0 150.0,320.5 145.8,319.9 143.4,321.1 139.7,325.9 137.9,330.8 138.3,336.9 137.3,342.4 133.6,347.2 126.3,349.0 119.7,351.5 117.8,355.0 116.0,353.9 114.8,349.7 109.3,344.2 107.5,340.5 99.6,337.5 102.3,329.0 105.1,320.9 101.2,320.7 88.0,320.1 80.8,318.8 78.5,318.2 73.7,320.1 71.8,316.3 75.6,311.6 74.7,307.8 78.5,303.0 80.4,298.3 74.7,293.5 69.0,289.7 60.9,285.7 62.8,276.2 63.7,269.6 67.5,265.8 68.5,261.1 71.3,249.7 70.4,242.1 70.2,232.6 69.3,228.1 68.3,222.4 66.8,214.5 66.4,205.4 65.5,195.9 64.1,192.8 61.1,189.8 57.4,187.8 46.5,187.4 33.1,188.0 25.8,190.4 19.5,192.2 23.4,186.7 29.5,178.2 35.1,171.9 47.4,161.5 62.3,147.2 71.4,138.7 75.9,134.0 83.6,123.5 95.7,119.6 97.6,128.4 100.2,136.9 101.8,137.1 107.3,138.7 109.1,137.1 111.2,136.9 111.5,129.6 118.8,126.9 118.0,124.3 114.2,113.0 113.3,105.4 119.0,97.8 128.5,90.2 136.1,83.5 140.5,79.8 142.2,72.0 141.4,63.9" fill="none" stroke-width="1.5"/></g></g><rect x="644.20" y="304.65" width="8.2" height="3.8" fill="#38a800" stroke="#5a5a2a" stroke-width="0.45"/><text x="653.20" y="307.85" font-size="3.7" fill="#5d6688">0 - 0.100</text><rect x="644.20" y="310.22" width="8.2" height="3.8" fill="#5aba00" stroke="#5a5a2a" stroke-width="0.45"/><text x="653.20" y="313.42" font-size="3.7" fill="#5d6688">0.101 - 0.200</text><rect x="644.20" y="315.79" width="8.2" height="3.8" fill="#83cf00" stroke="#5a5a2a" stroke-width="0.45"/><text x="653.20" y="318.99" font-size="3.7" fill="#5d6688">0.201 - 0.300</text><rect x="644.20" y="321.36" width="8.2" height="3.8" fill="#b0e000" stroke="#5a5a2a" stroke-width="0.45"/><text x="653.20" y="324.56" font-size="3.7" fill="#5d6688">0.301 - 0.400</text><rect x="644.20" y="326.93" width="8.2" height="3.8" fill="#e6f604" stroke="#5a5a2a" stroke-width="0.45"/><text x="653.20" y="330.13" font-size="3.7" fill="#5d6688">0.401 - 0.500</text><rect x="644.20" y="332.50" width="8.2" height="3.8" fill="#ffe100" stroke="#5a5a2a" stroke-width="0.45"/><text x="653.20" y="335.70" font-size="3.7" fill="#5d6688">0.501 - 0.600</text><rect x="644.20" y="338.07" width="8.2" height="3.8" fill="#ffaa00" stroke="#5a5a2a" stroke-width="0.45"/><text x="653.20" y="341.27" font-size="3.7" fill="#5d6688">0.601 - 0.700</text><rect x="644.20" y="343.64" width="8.2" height="3.8" fill="#ff7300" stroke="#5a5a2a" stroke-width="0.45"/><text x="653.20" y="346.84" font-size="3.7" fill="#5d6688">0.701 - 0.800</text><rect x="644.20" y="349.21" width="8.2" height="3.8" fill="#ff3700" stroke="#5a5a2a" stroke-width="0.45"/><text x="653.20" y="352.41" font-size="3.7" fill="#5d6688">0.801 - 0.900</text><rect x="644.20" y="354.78" width="8.2" height="3.8" fill="#ff0000" stroke="#5a5a2a" stroke-width="0.45"/><text x="653.20" y="357.98" font-size="3.7" fill="#5d6688">0.901 - 1</text></svg></body></html>
